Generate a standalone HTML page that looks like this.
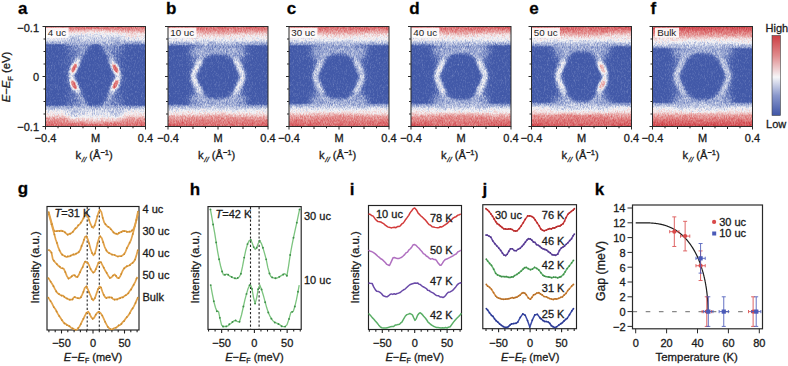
<!DOCTYPE html>
<html><head><meta charset="utf-8"><style>
html,body{margin:0;padding:0;background:#fff;}
svg{display:block;font-family:"Liberation Sans", sans-serif;}
text{stroke:#1a1a1a;stroke-width:0.3px;}
</style></head><body>
<svg width="788" height="366" viewBox="0 0 788 366">
<defs><clipPath id="clip0"><rect x="45.5" y="26.5" width="100.0" height="100.0"/></clipPath>
<linearGradient id="iT0" gradientUnits="userSpaceOnUse" x1="0" y1="0" x2="0" y2="19"><stop offset="0" stop-color="rgb(222,222,222)"/><stop offset="0.211" stop-color="rgb(184,184,184)"/><stop offset="0.395" stop-color="rgb(143,143,143)"/><stop offset="0.684" stop-color="rgb(120,120,120)"/><stop offset="0.895" stop-color="rgb(94,94,94)" stop-opacity="0.7"/><stop offset="1" stop-color="rgb(76,76,76)" stop-opacity="0"/></linearGradient>
<linearGradient id="iB0" gradientUnits="userSpaceOnUse" x1="0" y1="100" x2="0" y2="78"><stop offset="0" stop-color="rgb(222,222,222)"/><stop offset="0.364" stop-color="rgb(184,184,184)"/><stop offset="0.523" stop-color="rgb(143,143,143)"/><stop offset="0.727" stop-color="rgb(120,120,120)"/><stop offset="0.909" stop-color="rgb(94,94,94)" stop-opacity="0.7"/><stop offset="1" stop-color="rgb(76,76,76)" stop-opacity="0"/></linearGradient>
<clipPath id="clip1"><rect x="168.0" y="26.5" width="100.0" height="100.0"/></clipPath>
<linearGradient id="iT1" gradientUnits="userSpaceOnUse" x1="0" y1="0" x2="0" y2="20"><stop offset="0" stop-color="rgb(232,232,232)"/><stop offset="0.250" stop-color="rgb(184,184,184)"/><stop offset="0.425" stop-color="rgb(143,143,143)"/><stop offset="0.700" stop-color="rgb(120,120,120)"/><stop offset="0.900" stop-color="rgb(94,94,94)" stop-opacity="0.7"/><stop offset="1" stop-color="rgb(76,76,76)" stop-opacity="0"/></linearGradient>
<linearGradient id="iB1" gradientUnits="userSpaceOnUse" x1="0" y1="100" x2="0" y2="77"><stop offset="0" stop-color="rgb(232,232,232)"/><stop offset="0.391" stop-color="rgb(184,184,184)"/><stop offset="0.543" stop-color="rgb(143,143,143)"/><stop offset="0.739" stop-color="rgb(120,120,120)"/><stop offset="0.913" stop-color="rgb(94,94,94)" stop-opacity="0.7"/><stop offset="1" stop-color="rgb(76,76,76)" stop-opacity="0"/></linearGradient>
<clipPath id="clip2"><rect x="289.0" y="26.5" width="100.0" height="100.0"/></clipPath>
<linearGradient id="iT2" gradientUnits="userSpaceOnUse" x1="0" y1="0" x2="0" y2="20"><stop offset="0" stop-color="rgb(232,232,232)"/><stop offset="0.250" stop-color="rgb(184,184,184)"/><stop offset="0.425" stop-color="rgb(143,143,143)"/><stop offset="0.700" stop-color="rgb(120,120,120)"/><stop offset="0.900" stop-color="rgb(94,94,94)" stop-opacity="0.7"/><stop offset="1" stop-color="rgb(76,76,76)" stop-opacity="0"/></linearGradient>
<linearGradient id="iB2" gradientUnits="userSpaceOnUse" x1="0" y1="100" x2="0" y2="76"><stop offset="0" stop-color="rgb(232,232,232)"/><stop offset="0.417" stop-color="rgb(184,184,184)"/><stop offset="0.562" stop-color="rgb(143,143,143)"/><stop offset="0.750" stop-color="rgb(120,120,120)"/><stop offset="0.917" stop-color="rgb(94,94,94)" stop-opacity="0.7"/><stop offset="1" stop-color="rgb(76,76,76)" stop-opacity="0"/></linearGradient>
<clipPath id="clip3"><rect x="411.0" y="26.5" width="100.0" height="100.0"/></clipPath>
<linearGradient id="iT3" gradientUnits="userSpaceOnUse" x1="0" y1="0" x2="0" y2="20"><stop offset="0" stop-color="rgb(235,235,235)"/><stop offset="0.250" stop-color="rgb(184,184,184)"/><stop offset="0.425" stop-color="rgb(143,143,143)"/><stop offset="0.700" stop-color="rgb(120,120,120)"/><stop offset="0.900" stop-color="rgb(94,94,94)" stop-opacity="0.7"/><stop offset="1" stop-color="rgb(76,76,76)" stop-opacity="0"/></linearGradient>
<linearGradient id="iB3" gradientUnits="userSpaceOnUse" x1="0" y1="100" x2="0" y2="76"><stop offset="0" stop-color="rgb(235,235,235)"/><stop offset="0.417" stop-color="rgb(184,184,184)"/><stop offset="0.562" stop-color="rgb(143,143,143)"/><stop offset="0.750" stop-color="rgb(120,120,120)"/><stop offset="0.917" stop-color="rgb(94,94,94)" stop-opacity="0.7"/><stop offset="1" stop-color="rgb(76,76,76)" stop-opacity="0"/></linearGradient>
<clipPath id="clip4"><rect x="531.5" y="26.5" width="100.0" height="100.0"/></clipPath>
<linearGradient id="iT4" gradientUnits="userSpaceOnUse" x1="0" y1="0" x2="0" y2="21"><stop offset="0" stop-color="rgb(240,240,240)"/><stop offset="0.286" stop-color="rgb(184,184,184)"/><stop offset="0.452" stop-color="rgb(143,143,143)"/><stop offset="0.714" stop-color="rgb(120,120,120)"/><stop offset="0.905" stop-color="rgb(94,94,94)" stop-opacity="0.7"/><stop offset="1" stop-color="rgb(76,76,76)" stop-opacity="0"/></linearGradient>
<linearGradient id="iB4" gradientUnits="userSpaceOnUse" x1="0" y1="100" x2="0" y2="75"><stop offset="0" stop-color="rgb(240,240,240)"/><stop offset="0.440" stop-color="rgb(184,184,184)"/><stop offset="0.580" stop-color="rgb(143,143,143)"/><stop offset="0.760" stop-color="rgb(120,120,120)"/><stop offset="0.920" stop-color="rgb(94,94,94)" stop-opacity="0.7"/><stop offset="1" stop-color="rgb(76,76,76)" stop-opacity="0"/></linearGradient>
<clipPath id="clip5"><rect x="652.5" y="26.5" width="100.0" height="100.0"/></clipPath>
<linearGradient id="iT5" gradientUnits="userSpaceOnUse" x1="0" y1="0" x2="0" y2="23"><stop offset="0" stop-color="rgb(247,247,247)"/><stop offset="0.391" stop-color="rgb(184,184,184)"/><stop offset="0.543" stop-color="rgb(143,143,143)"/><stop offset="0.739" stop-color="rgb(120,120,120)"/><stop offset="0.913" stop-color="rgb(94,94,94)" stop-opacity="0.7"/><stop offset="1" stop-color="rgb(76,76,76)" stop-opacity="0"/></linearGradient>
<linearGradient id="iB5" gradientUnits="userSpaceOnUse" x1="0" y1="100" x2="0" y2="75"><stop offset="0" stop-color="rgb(247,247,247)"/><stop offset="0.440" stop-color="rgb(184,184,184)"/><stop offset="0.580" stop-color="rgb(143,143,143)"/><stop offset="0.760" stop-color="rgb(120,120,120)"/><stop offset="0.920" stop-color="rgb(94,94,94)" stop-opacity="0.7"/><stop offset="1" stop-color="rgb(76,76,76)" stop-opacity="0"/></linearGradient>
<linearGradient id="cbar" x1="0" y1="0" x2="0" y2="1"><stop offset="0" stop-color="#cc3d42"/><stop offset="0.25" stop-color="#e08a8c"/><stop offset="0.52" stop-color="#f6f6f8"/><stop offset="0.75" stop-color="#8a98cc"/><stop offset="1" stop-color="#3f55a6"/></linearGradient>
<filter id="blur05" x="-20%" y="-20%" width="140%" height="140%"><feGaussianBlur stdDeviation="0.6"/></filter>
<filter id="blur1" x="-20%" y="-20%" width="140%" height="140%"><feGaussianBlur stdDeviation="1.2"/></filter>
<filter id="blur3" x="-20%" y="-20%" width="140%" height="140%"><feGaussianBlur stdDeviation="3"/></filter>
<filter id="streak0" x="-10%" y="-10%" width="120%" height="120%"><feTurbulence type="fractalNoise" baseFrequency="0.9 0.06" numOctaves="2" seed="5" result="t"/><feDisplacementMap in="SourceGraphic" in2="t" scale="7" xChannelSelector="R" yChannelSelector="G"/><feGaussianBlur stdDeviation="1.6"/></filter>
<filter id="streak1" x="-10%" y="-10%" width="120%" height="120%"><feTurbulence type="fractalNoise" baseFrequency="0.9 0.06" numOctaves="2" seed="11" result="t"/><feDisplacementMap in="SourceGraphic" in2="t" scale="7" xChannelSelector="R" yChannelSelector="G"/><feGaussianBlur stdDeviation="1.6"/></filter>
<filter id="streak2" x="-10%" y="-10%" width="120%" height="120%"><feTurbulence type="fractalNoise" baseFrequency="0.9 0.06" numOctaves="2" seed="23" result="t"/><feDisplacementMap in="SourceGraphic" in2="t" scale="7" xChannelSelector="R" yChannelSelector="G"/><feGaussianBlur stdDeviation="1.6"/></filter>
<filter id="blur15" x="-20%" y="-20%" width="140%" height="140%"><feGaussianBlur stdDeviation="1.7"/></filter>
<filter id="cmap0" x="0" y="0" width="100%" height="100%" color-interpolation-filters="sRGB"><feTurbulence type="fractalNoise" baseFrequency="1.3 0.45" numOctaves="2" seed="3" result="nz"/><feColorMatrix in="nz" type="matrix" values="1 0 0 0 0  1 0 0 0 0  1 0 0 0 0  0 0 0 0 1" result="ng"/><feComposite in="SourceGraphic" in2="ng" operator="arithmetic" k1="0" k2="1" k3="0.34" k4="-0.17" result="sum"/><feComponentTransfer in="sum"><feFuncR type="table" tableValues="0.26 0.26 0.36 0.55 0.76 0.96 0.94 0.91 0.88 0.84 0.80"/><feFuncG type="table" tableValues="0.35 0.35 0.44 0.61 0.79 0.96 0.82 0.66 0.50 0.36 0.24"/><feFuncB type="table" tableValues="0.66 0.66 0.71 0.80 0.89 0.97 0.82 0.66 0.50 0.38 0.26"/><feFuncA type="linear" slope="0" intercept="1"/></feComponentTransfer><feGaussianBlur stdDeviation="0.7"/></filter>
<filter id="cmap1" x="0" y="0" width="100%" height="100%" color-interpolation-filters="sRGB"><feTurbulence type="fractalNoise" baseFrequency="1.3 0.45" numOctaves="2" seed="17" result="nz"/><feColorMatrix in="nz" type="matrix" values="1 0 0 0 0  1 0 0 0 0  1 0 0 0 0  0 0 0 0 1" result="ng"/><feComposite in="SourceGraphic" in2="ng" operator="arithmetic" k1="0" k2="1" k3="0.34" k4="-0.17" result="sum"/><feComponentTransfer in="sum"><feFuncR type="table" tableValues="0.26 0.26 0.36 0.55 0.76 0.96 0.94 0.91 0.88 0.84 0.80"/><feFuncG type="table" tableValues="0.35 0.35 0.44 0.61 0.79 0.96 0.82 0.66 0.50 0.36 0.24"/><feFuncB type="table" tableValues="0.66 0.66 0.71 0.80 0.89 0.97 0.82 0.66 0.50 0.38 0.26"/><feFuncA type="linear" slope="0" intercept="1"/></feComponentTransfer><feGaussianBlur stdDeviation="0.7"/></filter>
<filter id="cmap2" x="0" y="0" width="100%" height="100%" color-interpolation-filters="sRGB"><feTurbulence type="fractalNoise" baseFrequency="1.3 0.45" numOctaves="2" seed="29" result="nz"/><feColorMatrix in="nz" type="matrix" values="1 0 0 0 0  1 0 0 0 0  1 0 0 0 0  0 0 0 0 1" result="ng"/><feComposite in="SourceGraphic" in2="ng" operator="arithmetic" k1="0" k2="1" k3="0.34" k4="-0.17" result="sum"/><feComponentTransfer in="sum"><feFuncR type="table" tableValues="0.26 0.26 0.36 0.55 0.76 0.96 0.94 0.91 0.88 0.84 0.80"/><feFuncG type="table" tableValues="0.35 0.35 0.44 0.61 0.79 0.96 0.82 0.66 0.50 0.36 0.24"/><feFuncB type="table" tableValues="0.66 0.66 0.71 0.80 0.89 0.97 0.82 0.66 0.50 0.38 0.26"/><feFuncA type="linear" slope="0" intercept="1"/></feComponentTransfer><feGaussianBlur stdDeviation="0.7"/></filter>
<filter id="blur25" x="-20%" y="-20%" width="140%" height="140%"><feGaussianBlur stdDeviation="3.4"/></filter>
<filter id="blur2" x="-20%" y="-20%" width="140%" height="140%"><feGaussianBlur stdDeviation="2"/></filter>
<filter id="blur4" x="-20%" y="-20%" width="140%" height="140%"><feGaussianBlur stdDeviation="4"/></filter>
<filter id="speck" x="0" y="0" width="100%" height="100%"><feTurbulence type="fractalNoise" baseFrequency="0.9" numOctaves="1" seed="3"/><feColorMatrix type="matrix" values="0 0 0 0 1  0 0 0 0 1  0 0 0 0 1  0 0 0 -2.5 1.2"/></filter>
<linearGradient id="redTop" x1="0" y1="0" x2="0" y2="1"><stop offset="0" stop-color="#d24e50"/><stop offset="0.62" stop-color="#d8676a"/><stop offset="1" stop-color="#f2d6da" stop-opacity="0"/></linearGradient>
<linearGradient id="redBot" x1="0" y1="1" x2="0" y2="0"><stop offset="0" stop-color="#d24e50"/><stop offset="0.62" stop-color="#d8676a"/><stop offset="1" stop-color="#f2d6da" stop-opacity="0"/></linearGradient>
</defs>
<rect width="788" height="366" fill="#fff"/>
<g clip-path="url(#clip0)">
<g transform="translate(45.5,26.5)">
<g filter="url(#cmap0)">
<rect x="-5" y="-5" width="110" height="110" fill="rgb(54,54,54)"/>
<g filter="url(#blur25)">
<path d="M-10,18 C0,17 6,15 12,15 C18,15 23,20 23,38 L21,50 L23,62 C23,80 18,85 12,85 C6,85 0,83 -10,82 Z" fill="rgb(26,26,26)"/>
<path d="M110,18 C100,17 94,15 88,15 C81,15 76,20 76,38 L78,50 L76,62 C76,80 81,85 88,85 C94,85 100,83 110,82 Z" fill="rgb(26,26,26)"/>
<path d="M50,13 C56,13 73.0,44 73.0,50 C73.0,56 56,87 50,87 C44,87 25.5,56 25.5,50 C25.5,44 44,13 50,13 Z" fill="rgb(26,26,26)"/>
</g>
<rect x="-5" y="-5" width="110" height="24" fill="url(#iT0)"/>
<rect x="-5" y="78" width="110" height="27" fill="url(#iB0)"/>
<path d="M40,11 L28.5,42 L25.5,50 L28.5,58 L40,86 M60,11 L70.0,42 L73.0,50 L70.0,58 L60,86" fill="none" stroke="rgb(122,122,122)" stroke-width="4.5" stroke-linejoin="round" opacity="0.45" filter="url(#blur2)"/>
<ellipse cx="30" cy="14" rx="9" ry="7" fill="rgb(92,92,92)" opacity="0.8" filter="url(#blur3)"/>
<ellipse cx="70" cy="14" rx="9" ry="7" fill="rgb(92,92,92)" opacity="0.8" filter="url(#blur3)"/>
<ellipse cx="30" cy="86" rx="9" ry="7" fill="rgb(92,92,92)" opacity="0.8" filter="url(#blur3)"/>
<ellipse cx="70" cy="86" rx="9" ry="7" fill="rgb(92,92,92)" opacity="0.8" filter="url(#blur3)"/>
<ellipse cx="50" cy="10" rx="15" ry="5" fill="rgb(102,102,102)" opacity="0.7" filter="url(#blur3)"/>
<ellipse cx="50" cy="90" rx="15" ry="5" fill="rgb(102,102,102)" opacity="0.7" filter="url(#blur3)"/>
<path d="M50,13 C56,13 73.0,44 73.0,50 C73.0,56 56,87 50,87 C44,87 25.5,56 25.5,50 C25.5,44 44,13 50,13 Z" fill="none" stroke="rgb(102,102,102)" stroke-width="3.6" opacity="0.65" filter="url(#blur15)"/>
<path d="M32.5,35 L26.0,48.5 M26.0,51.5 L32.5,65 M66.0,35 L72.5,48.5 M72.5,51.5 L66.0,65" fill="none" stroke="rgb(122,122,122)" stroke-width="4.2" stroke-linecap="round" filter="url(#blur15)"/>
<ellipse cx="28.5" cy="41.5" rx="6.5" ry="3.2" fill="rgb(133,133,133)" transform="rotate(-62 28.5 41.5)" filter="url(#blur1)"/>
<ellipse cx="28.5" cy="41.5" rx="4.6" ry="2.0" fill="rgb(214,214,214)" transform="rotate(-62 28.5 41.5)" filter="url(#blur05)"/>
<ellipse cx="28.5" cy="58.5" rx="6.5" ry="3.2" fill="rgb(133,133,133)" transform="rotate(62 28.5 58.5)" filter="url(#blur1)"/>
<ellipse cx="28.5" cy="58.5" rx="4.6" ry="2.0" fill="rgb(214,214,214)" transform="rotate(62 28.5 58.5)" filter="url(#blur05)"/>
<ellipse cx="70.0" cy="42" rx="6.5" ry="3.2" fill="rgb(133,133,133)" transform="rotate(62 70.0 42)" filter="url(#blur1)"/>
<ellipse cx="70.0" cy="42" rx="4.6" ry="2.0" fill="rgb(214,214,214)" transform="rotate(62 70.0 42)" filter="url(#blur05)"/>
<ellipse cx="70.0" cy="58" rx="6.5" ry="3.2" fill="rgb(133,133,133)" transform="rotate(-62 70.0 58)" filter="url(#blur1)"/>
<ellipse cx="70.0" cy="58" rx="4.6" ry="2.0" fill="rgb(214,214,214)" transform="rotate(-62 70.0 58)" filter="url(#blur05)"/>
</g>
<rect x="0" y="1.2" width="23.1" height="10" fill="#ffffff" opacity="0.9"/>
<text x="2.2" y="9.8" font-size="9.8" fill="#222" style="stroke:none">4 uc</text>
</g></g>
<g clip-path="url(#clip1)">
<g transform="translate(168.0,26.5)">
<g filter="url(#cmap1)">
<rect x="-5" y="-5" width="110" height="110" fill="rgb(54,54,54)"/>
<g filter="url(#blur25)">
<path d="M-10,17 C0,16 6,14 12,14 C20,14 25,19 25,37 L23,50 L25,63 C25,81 20,86 12,86 C6,86 0,84 -10,83 Z" fill="rgb(26,26,26)"/>
<path d="M110,17 C100,16 94,14 88,14 C80,14 75,19 75,37 L77,50 L75,63 C75,81 80,86 88,86 C94,86 100,84 110,83 Z" fill="rgb(26,26,26)"/>
<path d="M50,25 C64,25 75.0,37 75.0,50 C75.0,63 64,75 50,75 C36,75 25.0,63 25.0,50 C25.0,37 36,25 50,25 Z" fill="rgb(26,26,26)"/>
</g>
<rect x="-5" y="-5" width="110" height="25" fill="url(#iT1)"/>
<rect x="-5" y="77" width="110" height="28" fill="url(#iB1)"/>
<ellipse cx="50" cy="-1" rx="34" ry="9" fill="rgb(204,204,204)" opacity="0.40" filter="url(#blur3)"/>
<ellipse cx="50" cy="101" rx="34" ry="13" fill="rgb(204,204,204)" opacity="0.40" filter="url(#blur3)"/>
<path d="M40,12 L28.0,42 L25.0,50 L28.0,58 L40,85 M60,12 L72.0,42 L75.0,50 L72.0,58 L60,85" fill="none" stroke="rgb(122,122,122)" stroke-width="4.5" stroke-linejoin="round" opacity="0.45" filter="url(#blur2)"/>
<ellipse cx="30" cy="26" rx="9" ry="7" fill="rgb(92,92,92)" opacity="0.8" filter="url(#blur3)"/>
<ellipse cx="70" cy="26" rx="9" ry="7" fill="rgb(92,92,92)" opacity="0.8" filter="url(#blur3)"/>
<ellipse cx="30" cy="74" rx="9" ry="7" fill="rgb(92,92,92)" opacity="0.8" filter="url(#blur3)"/>
<ellipse cx="70" cy="74" rx="9" ry="7" fill="rgb(92,92,92)" opacity="0.8" filter="url(#blur3)"/>
<ellipse cx="50" cy="22" rx="15" ry="5" fill="rgb(102,102,102)" opacity="0.7" filter="url(#blur3)"/>
<ellipse cx="50" cy="78" rx="15" ry="5" fill="rgb(102,102,102)" opacity="0.7" filter="url(#blur3)"/>
<path d="M50,25 C64,25 75.0,37 75.0,50 C75.0,63 64,75 50,75 C36,75 25.0,63 25.0,50 C25.0,37 36,25 50,25 Z" fill="none" stroke="rgb(102,102,102)" stroke-width="3.6" opacity="0.65" filter="url(#blur15)"/>
<path d="M32.0,35 L25.5,48.5 M25.5,51.5 L32.0,65 M68.0,35 L74.5,48.5 M74.5,51.5 L68.0,65" fill="none" stroke="rgb(128,128,128)" stroke-width="4.2" stroke-linecap="round" filter="url(#blur15)"/>
</g>
<rect x="0" y="1.2" width="28.4" height="10" fill="#ffffff" opacity="0.9"/>
<text x="2.2" y="9.8" font-size="9.8" fill="#222" style="stroke:none">10 uc</text>
</g></g>
<g clip-path="url(#clip2)">
<g transform="translate(289.0,26.5)">
<g filter="url(#cmap2)">
<rect x="-5" y="-5" width="110" height="110" fill="rgb(54,54,54)"/>
<g filter="url(#blur25)">
<path d="M-10,17 C0,16 6,14 12,14 C20,14 25,19 25,37 L23,50 L25,63 C25,81 20,86 12,86 C6,86 0,84 -10,83 Z" fill="rgb(26,26,26)"/>
<path d="M110,17 C100,16 94,14 88,14 C80,14 75,19 75,37 L77,50 L75,63 C75,81 80,86 88,86 C94,86 100,84 110,83 Z" fill="rgb(26,26,26)"/>
<path d="M50,25 C64,25 73.5,37 73.5,50 C73.5,63 64,75 50,75 C36,75 26.0,63 26.0,50 C26.0,37 36,25 50,25 Z" fill="rgb(26,26,26)"/>
</g>
<rect x="-5" y="-5" width="110" height="25" fill="url(#iT2)"/>
<rect x="-5" y="76" width="110" height="29" fill="url(#iB2)"/>
<ellipse cx="50" cy="-1" rx="34" ry="9" fill="rgb(204,204,204)" opacity="0.40" filter="url(#blur3)"/>
<ellipse cx="50" cy="101" rx="34" ry="14" fill="rgb(204,204,204)" opacity="0.40" filter="url(#blur3)"/>
<path d="M40,12 L29.0,42 L26.0,50 L29.0,58 L40,84 M59,12 L70.5,42 L73.5,50 L70.5,58 L59,84" fill="none" stroke="rgb(107,107,107)" stroke-width="4.5" stroke-linejoin="round" opacity="0.45" filter="url(#blur2)"/>
<ellipse cx="30" cy="26" rx="9" ry="7" fill="rgb(92,92,92)" opacity="0.8" filter="url(#blur3)"/>
<ellipse cx="70" cy="26" rx="9" ry="7" fill="rgb(92,92,92)" opacity="0.8" filter="url(#blur3)"/>
<ellipse cx="30" cy="74" rx="9" ry="7" fill="rgb(92,92,92)" opacity="0.8" filter="url(#blur3)"/>
<ellipse cx="70" cy="74" rx="9" ry="7" fill="rgb(92,92,92)" opacity="0.8" filter="url(#blur3)"/>
<ellipse cx="50" cy="22" rx="15" ry="5" fill="rgb(102,102,102)" opacity="0.7" filter="url(#blur3)"/>
<ellipse cx="50" cy="78" rx="15" ry="5" fill="rgb(102,102,102)" opacity="0.7" filter="url(#blur3)"/>
<path d="M50,25 C64,25 73.5,37 73.5,50 C73.5,63 64,75 50,75 C36,75 26.0,63 26.0,50 C26.0,37 36,25 50,25 Z" fill="none" stroke="rgb(102,102,102)" stroke-width="3.6" opacity="0.65" filter="url(#blur15)"/>
<path d="M33.0,35 L26.5,48.5 M26.5,51.5 L33.0,65 M66.5,35 L73.0,48.5 M73.0,51.5 L66.5,65" fill="none" stroke="rgb(110,110,110)" stroke-width="4.2" stroke-linecap="round" filter="url(#blur15)"/>
</g>
<rect x="0" y="1.2" width="28.4" height="10" fill="#ffffff" opacity="0.9"/>
<text x="2.2" y="9.8" font-size="9.8" fill="#222" style="stroke:none">30 uc</text>
</g></g>
<g clip-path="url(#clip3)">
<g transform="translate(411.0,26.5)">
<g filter="url(#cmap0)">
<rect x="-5" y="-5" width="110" height="110" fill="rgb(54,54,54)"/>
<g filter="url(#blur25)">
<path d="M-10,17 C0,16 6,14 12,14 C20,14 25,19 25,37 L23,50 L25,63 C25,81 20,86 12,86 C6,86 0,84 -10,83 Z" fill="rgb(26,26,26)"/>
<path d="M110,17 C100,16 94,14 88,14 C80,14 75,19 75,37 L77,50 L75,63 C75,81 80,86 88,86 C94,86 100,84 110,83 Z" fill="rgb(26,26,26)"/>
<path d="M50,24 C64,24 74.5,37 74.5,50 C74.5,63 64,76 50,76 C36,76 25.5,63 25.5,50 C25.5,37 36,24 50,24 Z" fill="rgb(26,26,26)"/>
</g>
<rect x="-5" y="-5" width="110" height="25" fill="url(#iT3)"/>
<rect x="-5" y="76" width="110" height="29" fill="url(#iB3)"/>
<ellipse cx="50" cy="-1" rx="34" ry="9" fill="rgb(206,206,206)" opacity="0.48" filter="url(#blur3)"/>
<ellipse cx="50" cy="101" rx="34" ry="14" fill="rgb(206,206,206)" opacity="0.48" filter="url(#blur3)"/>
<path d="M39,12 L28.5,42 L25.5,50 L28.5,58 L39,84 M61,12 L71.5,42 L74.5,50 L71.5,58 L61,84" fill="none" stroke="rgb(122,122,122)" stroke-width="4.5" stroke-linejoin="round" opacity="0.45" filter="url(#blur2)"/>
<ellipse cx="30" cy="25" rx="9" ry="7" fill="rgb(92,92,92)" opacity="0.8" filter="url(#blur3)"/>
<ellipse cx="70" cy="25" rx="9" ry="7" fill="rgb(92,92,92)" opacity="0.8" filter="url(#blur3)"/>
<ellipse cx="30" cy="75" rx="9" ry="7" fill="rgb(92,92,92)" opacity="0.8" filter="url(#blur3)"/>
<ellipse cx="70" cy="75" rx="9" ry="7" fill="rgb(92,92,92)" opacity="0.8" filter="url(#blur3)"/>
<ellipse cx="50" cy="21" rx="15" ry="5" fill="rgb(102,102,102)" opacity="0.7" filter="url(#blur3)"/>
<ellipse cx="50" cy="79" rx="15" ry="5" fill="rgb(102,102,102)" opacity="0.7" filter="url(#blur3)"/>
<path d="M50,24 C64,24 74.5,37 74.5,50 C74.5,63 64,76 50,76 C36,76 25.5,63 25.5,50 C25.5,37 36,24 50,24 Z" fill="none" stroke="rgb(102,102,102)" stroke-width="3.6" opacity="0.65" filter="url(#blur15)"/>
<path d="M32.5,35 L26.0,48.5 M26.0,51.5 L32.5,65 M67.5,35 L74.0,48.5 M74.0,51.5 L67.5,65" fill="none" stroke="rgb(128,128,128)" stroke-width="4.2" stroke-linecap="round" filter="url(#blur15)"/>
</g>
<rect x="0" y="1.2" width="28.4" height="10" fill="#ffffff" opacity="0.9"/>
<text x="2.2" y="9.8" font-size="9.8" fill="#222" style="stroke:none">40 uc</text>
</g></g>
<g clip-path="url(#clip4)">
<g transform="translate(531.5,26.5)">
<g filter="url(#cmap1)">
<rect x="-5" y="-5" width="110" height="110" fill="rgb(54,54,54)"/>
<g filter="url(#blur25)">
<path d="M-10,17 C0,16 6,14 12,14 C20,14 25,19 25,37 L23,50 L25,63 C25,81 20,86 12,86 C6,86 0,84 -10,83 Z" fill="rgb(26,26,26)"/>
<path d="M110,17 C100,16 94,14 88,14 C80,14 75,19 75,37 L77,50 L75,63 C75,81 80,86 88,86 C94,86 100,84 110,83 Z" fill="rgb(26,26,26)"/>
<path d="M50,22 C64,22 74.0,37 74.0,50 C74.0,63 64,78 50,78 C36,78 26.0,63 26.0,50 C26.0,37 36,22 50,22 Z" fill="rgb(26,26,26)"/>
</g>
<rect x="-5" y="-5" width="110" height="26" fill="url(#iT4)"/>
<rect x="-5" y="75" width="110" height="30" fill="url(#iB4)"/>
<ellipse cx="50" cy="-1" rx="34" ry="10" fill="rgb(211,211,211)" opacity="0.56" filter="url(#blur3)"/>
<ellipse cx="50" cy="101" rx="34" ry="15" fill="rgb(211,211,211)" opacity="0.56" filter="url(#blur3)"/>
<path d="M38,13 L29.0,42 L26.0,50 L29.0,58 L38,83 M62,13 L71.0,42 L74.0,50 L71.0,58 L62,83" fill="none" stroke="rgb(122,122,122)" stroke-width="4.5" stroke-linejoin="round" opacity="0.45" filter="url(#blur2)"/>
<ellipse cx="30" cy="23" rx="9" ry="7" fill="rgb(92,92,92)" opacity="0.8" filter="url(#blur3)"/>
<ellipse cx="70" cy="23" rx="9" ry="7" fill="rgb(92,92,92)" opacity="0.8" filter="url(#blur3)"/>
<ellipse cx="30" cy="77" rx="9" ry="7" fill="rgb(92,92,92)" opacity="0.8" filter="url(#blur3)"/>
<ellipse cx="70" cy="77" rx="9" ry="7" fill="rgb(92,92,92)" opacity="0.8" filter="url(#blur3)"/>
<ellipse cx="50" cy="19" rx="15" ry="5" fill="rgb(102,102,102)" opacity="0.7" filter="url(#blur3)"/>
<ellipse cx="50" cy="81" rx="15" ry="5" fill="rgb(102,102,102)" opacity="0.7" filter="url(#blur3)"/>
<path d="M50,22 C64,22 74.0,37 74.0,50 C74.0,63 64,78 50,78 C36,78 26.0,63 26.0,50 C26.0,37 36,22 50,22 Z" fill="none" stroke="rgb(102,102,102)" stroke-width="3.6" opacity="0.65" filter="url(#blur15)"/>
<path d="M33.0,35 L26.5,48.5 M26.5,51.5 L33.0,65 M67.0,35 L73.5,48.5 M73.5,51.5 L67.0,65" fill="none" stroke="rgb(128,128,128)" stroke-width="4.2" stroke-linecap="round" filter="url(#blur15)"/>
<ellipse cx="71.0" cy="42" rx="6.5" ry="3.2" fill="rgb(133,133,133)" transform="rotate(62 71.0 42)" filter="url(#blur1)"/>
<ellipse cx="71.0" cy="42" rx="4.6" ry="2.0" fill="rgb(168,168,168)" transform="rotate(62 71.0 42)" filter="url(#blur05)"/>
<ellipse cx="71.0" cy="58" rx="6.5" ry="3.2" fill="rgb(133,133,133)" transform="rotate(-62 71.0 58)" filter="url(#blur1)"/>
<ellipse cx="71.0" cy="58" rx="4.6" ry="2.0" fill="rgb(168,168,168)" transform="rotate(-62 71.0 58)" filter="url(#blur05)"/>
</g>
<rect x="0" y="1.2" width="28.4" height="10" fill="#ffffff" opacity="0.9"/>
<text x="2.2" y="9.8" font-size="9.8" fill="#222" style="stroke:none">50 uc</text>
</g></g>
<g clip-path="url(#clip5)">
<g transform="translate(652.5,26.5)">
<g filter="url(#cmap2)">
<rect x="-5" y="-5" width="110" height="110" fill="rgb(54,54,54)"/>
<g filter="url(#blur25)">
<path d="M-10,20 C0,19 6,17 12,17 C16,17 21,22 21,40 L19,50 L21,60 C21,78 16,83 12,83 C6,83 0,81 -10,80 Z" fill="rgb(26,26,26)"/>
<path d="M110,20 C100,19 94,17 88,17 C84,17 79,22 79,40 L81,50 L79,60 C79,78 84,83 88,83 C94,83 100,81 110,80 Z" fill="rgb(26,26,26)"/>
<path d="M50,24 C64,24 76.5,37 76.5,50 C76.5,63 64,76 50,76 C36,76 23.5,63 23.5,50 C23.5,37 36,24 50,24 Z" fill="rgb(26,26,26)"/>
</g>
<rect x="-5" y="-5" width="110" height="28" fill="url(#iT5)"/>
<rect x="-5" y="75" width="110" height="30" fill="url(#iB5)"/>
<path d="M39,15 L26.5,42 L23.5,50 L26.5,58 L39,83 M62,15 L73.5,42 L76.5,50 L73.5,58 L62,83" fill="none" stroke="rgb(117,117,117)" stroke-width="4.5" stroke-linejoin="round" opacity="0.45" filter="url(#blur2)"/>
<ellipse cx="30" cy="25" rx="9" ry="7" fill="rgb(92,92,92)" opacity="0.8" filter="url(#blur3)"/>
<ellipse cx="70" cy="25" rx="9" ry="7" fill="rgb(92,92,92)" opacity="0.8" filter="url(#blur3)"/>
<ellipse cx="30" cy="75" rx="9" ry="7" fill="rgb(92,92,92)" opacity="0.8" filter="url(#blur3)"/>
<ellipse cx="70" cy="75" rx="9" ry="7" fill="rgb(92,92,92)" opacity="0.8" filter="url(#blur3)"/>
<ellipse cx="50" cy="21" rx="15" ry="5" fill="rgb(102,102,102)" opacity="0.7" filter="url(#blur3)"/>
<ellipse cx="50" cy="79" rx="15" ry="5" fill="rgb(102,102,102)" opacity="0.7" filter="url(#blur3)"/>
<path d="M50,24 C64,24 76.5,37 76.5,50 C76.5,63 64,76 50,76 C36,76 23.5,63 23.5,50 C23.5,37 36,24 50,24 Z" fill="none" stroke="rgb(102,102,102)" stroke-width="3.6" opacity="0.65" filter="url(#blur15)"/>
<path d="M30.5,35 L24.0,48.5 M24.0,51.5 L30.5,65 M69.5,35 L76.0,48.5 M76.0,51.5 L69.5,65" fill="none" stroke="rgb(107,107,107)" stroke-width="4.2" stroke-linecap="round" filter="url(#blur15)"/>
</g>
<rect x="2.5" y="1.2" width="24.0" height="10" fill="#ffffff" opacity="0.9"/>
<text x="4.7" y="9.8" font-size="9.8" fill="#222" style="stroke:none">Bulk</text>
</g></g>
<rect x="45.5" y="26.5" width="100.0" height="100.0" fill="none" stroke="#2a2a2a" stroke-width="1"/>
<line x1="45.5" y1="126.5" x2="45.5" y2="129.5" stroke="#2a2a2a" stroke-width="1"/>
<line x1="58.0" y1="126.5" x2="58.0" y2="128.3" stroke="#2a2a2a" stroke-width="1"/>
<line x1="70.5" y1="126.5" x2="70.5" y2="129.0" stroke="#2a2a2a" stroke-width="1"/>
<line x1="83.0" y1="126.5" x2="83.0" y2="128.3" stroke="#2a2a2a" stroke-width="1"/>
<line x1="95.5" y1="126.5" x2="95.5" y2="129.5" stroke="#2a2a2a" stroke-width="1"/>
<line x1="108.0" y1="126.5" x2="108.0" y2="128.3" stroke="#2a2a2a" stroke-width="1"/>
<line x1="120.5" y1="126.5" x2="120.5" y2="129.0" stroke="#2a2a2a" stroke-width="1"/>
<line x1="133.0" y1="126.5" x2="133.0" y2="128.3" stroke="#2a2a2a" stroke-width="1"/>
<line x1="145.5" y1="126.5" x2="145.5" y2="129.5" stroke="#2a2a2a" stroke-width="1"/>
<line x1="45.5" y1="26.5" x2="42.5" y2="26.5" stroke="#2a2a2a" stroke-width="1"/>
<line x1="45.5" y1="39.0" x2="43.5" y2="39.0" stroke="#2a2a2a" stroke-width="1"/>
<line x1="45.5" y1="51.5" x2="43.5" y2="51.5" stroke="#2a2a2a" stroke-width="1"/>
<line x1="45.5" y1="64.0" x2="43.5" y2="64.0" stroke="#2a2a2a" stroke-width="1"/>
<line x1="45.5" y1="76.5" x2="42.5" y2="76.5" stroke="#2a2a2a" stroke-width="1"/>
<line x1="45.5" y1="89.0" x2="43.5" y2="89.0" stroke="#2a2a2a" stroke-width="1"/>
<line x1="45.5" y1="101.5" x2="43.5" y2="101.5" stroke="#2a2a2a" stroke-width="1"/>
<line x1="45.5" y1="114.0" x2="43.5" y2="114.0" stroke="#2a2a2a" stroke-width="1"/>
<line x1="45.5" y1="126.5" x2="42.5" y2="126.5" stroke="#2a2a2a" stroke-width="1"/>
<text x="45.50" y="142.04" font-size="11" text-anchor="middle" font-weight="normal" fill="#1a1a1a" >−0.4</text>
<text x="95.50" y="142.04" font-size="11" text-anchor="middle" font-weight="normal" fill="#1a1a1a" >M</text>
<text x="145.50" y="142.04" font-size="11" text-anchor="middle" font-weight="normal" fill="#1a1a1a" >0.4</text>
<text x="94.1" y="159.3" font-size="11.2" text-anchor="middle" fill="#1a1a1a">k<tspan font-size="8" font-style="italic" dy="2.5" dx="0.6">//</tspan><tspan dy="-2.5"> (Å</tspan><tspan font-size="7.5" dy="-4.2">−1</tspan><tspan dy="4.2">)</tspan></text>
<rect x="168.0" y="26.5" width="100.0" height="100.0" fill="none" stroke="#2a2a2a" stroke-width="1"/>
<line x1="168.0" y1="126.5" x2="168.0" y2="129.5" stroke="#2a2a2a" stroke-width="1"/>
<line x1="180.5" y1="126.5" x2="180.5" y2="128.3" stroke="#2a2a2a" stroke-width="1"/>
<line x1="193.0" y1="126.5" x2="193.0" y2="129.0" stroke="#2a2a2a" stroke-width="1"/>
<line x1="205.5" y1="126.5" x2="205.5" y2="128.3" stroke="#2a2a2a" stroke-width="1"/>
<line x1="218.0" y1="126.5" x2="218.0" y2="129.5" stroke="#2a2a2a" stroke-width="1"/>
<line x1="230.5" y1="126.5" x2="230.5" y2="128.3" stroke="#2a2a2a" stroke-width="1"/>
<line x1="243.0" y1="126.5" x2="243.0" y2="129.0" stroke="#2a2a2a" stroke-width="1"/>
<line x1="255.5" y1="126.5" x2="255.5" y2="128.3" stroke="#2a2a2a" stroke-width="1"/>
<line x1="268.0" y1="126.5" x2="268.0" y2="129.5" stroke="#2a2a2a" stroke-width="1"/>
<line x1="168.0" y1="26.5" x2="165.0" y2="26.5" stroke="#2a2a2a" stroke-width="1"/>
<line x1="168.0" y1="39.0" x2="166.0" y2="39.0" stroke="#2a2a2a" stroke-width="1"/>
<line x1="168.0" y1="51.5" x2="166.0" y2="51.5" stroke="#2a2a2a" stroke-width="1"/>
<line x1="168.0" y1="64.0" x2="166.0" y2="64.0" stroke="#2a2a2a" stroke-width="1"/>
<line x1="168.0" y1="76.5" x2="165.0" y2="76.5" stroke="#2a2a2a" stroke-width="1"/>
<line x1="168.0" y1="89.0" x2="166.0" y2="89.0" stroke="#2a2a2a" stroke-width="1"/>
<line x1="168.0" y1="101.5" x2="166.0" y2="101.5" stroke="#2a2a2a" stroke-width="1"/>
<line x1="168.0" y1="114.0" x2="166.0" y2="114.0" stroke="#2a2a2a" stroke-width="1"/>
<line x1="168.0" y1="126.5" x2="165.0" y2="126.5" stroke="#2a2a2a" stroke-width="1"/>
<text x="168.00" y="142.04" font-size="11" text-anchor="middle" font-weight="normal" fill="#1a1a1a" >−0.4</text>
<text x="218.00" y="142.04" font-size="11" text-anchor="middle" font-weight="normal" fill="#1a1a1a" >M</text>
<text x="268.00" y="142.04" font-size="11" text-anchor="middle" font-weight="normal" fill="#1a1a1a" >0.4</text>
<text x="216.6" y="159.3" font-size="11.2" text-anchor="middle" fill="#1a1a1a">k<tspan font-size="8" font-style="italic" dy="2.5" dx="0.6">//</tspan><tspan dy="-2.5"> (Å</tspan><tspan font-size="7.5" dy="-4.2">−1</tspan><tspan dy="4.2">)</tspan></text>
<rect x="289.0" y="26.5" width="100.0" height="100.0" fill="none" stroke="#2a2a2a" stroke-width="1"/>
<line x1="289.0" y1="126.5" x2="289.0" y2="129.5" stroke="#2a2a2a" stroke-width="1"/>
<line x1="301.5" y1="126.5" x2="301.5" y2="128.3" stroke="#2a2a2a" stroke-width="1"/>
<line x1="314.0" y1="126.5" x2="314.0" y2="129.0" stroke="#2a2a2a" stroke-width="1"/>
<line x1="326.5" y1="126.5" x2="326.5" y2="128.3" stroke="#2a2a2a" stroke-width="1"/>
<line x1="339.0" y1="126.5" x2="339.0" y2="129.5" stroke="#2a2a2a" stroke-width="1"/>
<line x1="351.5" y1="126.5" x2="351.5" y2="128.3" stroke="#2a2a2a" stroke-width="1"/>
<line x1="364.0" y1="126.5" x2="364.0" y2="129.0" stroke="#2a2a2a" stroke-width="1"/>
<line x1="376.5" y1="126.5" x2="376.5" y2="128.3" stroke="#2a2a2a" stroke-width="1"/>
<line x1="389.0" y1="126.5" x2="389.0" y2="129.5" stroke="#2a2a2a" stroke-width="1"/>
<line x1="289.0" y1="26.5" x2="286.0" y2="26.5" stroke="#2a2a2a" stroke-width="1"/>
<line x1="289.0" y1="39.0" x2="287.0" y2="39.0" stroke="#2a2a2a" stroke-width="1"/>
<line x1="289.0" y1="51.5" x2="287.0" y2="51.5" stroke="#2a2a2a" stroke-width="1"/>
<line x1="289.0" y1="64.0" x2="287.0" y2="64.0" stroke="#2a2a2a" stroke-width="1"/>
<line x1="289.0" y1="76.5" x2="286.0" y2="76.5" stroke="#2a2a2a" stroke-width="1"/>
<line x1="289.0" y1="89.0" x2="287.0" y2="89.0" stroke="#2a2a2a" stroke-width="1"/>
<line x1="289.0" y1="101.5" x2="287.0" y2="101.5" stroke="#2a2a2a" stroke-width="1"/>
<line x1="289.0" y1="114.0" x2="287.0" y2="114.0" stroke="#2a2a2a" stroke-width="1"/>
<line x1="289.0" y1="126.5" x2="286.0" y2="126.5" stroke="#2a2a2a" stroke-width="1"/>
<text x="289.00" y="142.04" font-size="11" text-anchor="middle" font-weight="normal" fill="#1a1a1a" >−0.4</text>
<text x="339.00" y="142.04" font-size="11" text-anchor="middle" font-weight="normal" fill="#1a1a1a" >M</text>
<text x="389.00" y="142.04" font-size="11" text-anchor="middle" font-weight="normal" fill="#1a1a1a" >0.4</text>
<text x="337.6" y="159.3" font-size="11.2" text-anchor="middle" fill="#1a1a1a">k<tspan font-size="8" font-style="italic" dy="2.5" dx="0.6">//</tspan><tspan dy="-2.5"> (Å</tspan><tspan font-size="7.5" dy="-4.2">−1</tspan><tspan dy="4.2">)</tspan></text>
<rect x="411.0" y="26.5" width="100.0" height="100.0" fill="none" stroke="#2a2a2a" stroke-width="1"/>
<line x1="411.0" y1="126.5" x2="411.0" y2="129.5" stroke="#2a2a2a" stroke-width="1"/>
<line x1="423.5" y1="126.5" x2="423.5" y2="128.3" stroke="#2a2a2a" stroke-width="1"/>
<line x1="436.0" y1="126.5" x2="436.0" y2="129.0" stroke="#2a2a2a" stroke-width="1"/>
<line x1="448.5" y1="126.5" x2="448.5" y2="128.3" stroke="#2a2a2a" stroke-width="1"/>
<line x1="461.0" y1="126.5" x2="461.0" y2="129.5" stroke="#2a2a2a" stroke-width="1"/>
<line x1="473.5" y1="126.5" x2="473.5" y2="128.3" stroke="#2a2a2a" stroke-width="1"/>
<line x1="486.0" y1="126.5" x2="486.0" y2="129.0" stroke="#2a2a2a" stroke-width="1"/>
<line x1="498.5" y1="126.5" x2="498.5" y2="128.3" stroke="#2a2a2a" stroke-width="1"/>
<line x1="511.0" y1="126.5" x2="511.0" y2="129.5" stroke="#2a2a2a" stroke-width="1"/>
<line x1="411.0" y1="26.5" x2="408.0" y2="26.5" stroke="#2a2a2a" stroke-width="1"/>
<line x1="411.0" y1="39.0" x2="409.0" y2="39.0" stroke="#2a2a2a" stroke-width="1"/>
<line x1="411.0" y1="51.5" x2="409.0" y2="51.5" stroke="#2a2a2a" stroke-width="1"/>
<line x1="411.0" y1="64.0" x2="409.0" y2="64.0" stroke="#2a2a2a" stroke-width="1"/>
<line x1="411.0" y1="76.5" x2="408.0" y2="76.5" stroke="#2a2a2a" stroke-width="1"/>
<line x1="411.0" y1="89.0" x2="409.0" y2="89.0" stroke="#2a2a2a" stroke-width="1"/>
<line x1="411.0" y1="101.5" x2="409.0" y2="101.5" stroke="#2a2a2a" stroke-width="1"/>
<line x1="411.0" y1="114.0" x2="409.0" y2="114.0" stroke="#2a2a2a" stroke-width="1"/>
<line x1="411.0" y1="126.5" x2="408.0" y2="126.5" stroke="#2a2a2a" stroke-width="1"/>
<text x="411.00" y="142.04" font-size="11" text-anchor="middle" font-weight="normal" fill="#1a1a1a" >−0.4</text>
<text x="461.00" y="142.04" font-size="11" text-anchor="middle" font-weight="normal" fill="#1a1a1a" >M</text>
<text x="511.00" y="142.04" font-size="11" text-anchor="middle" font-weight="normal" fill="#1a1a1a" >0.4</text>
<text x="459.6" y="159.3" font-size="11.2" text-anchor="middle" fill="#1a1a1a">k<tspan font-size="8" font-style="italic" dy="2.5" dx="0.6">//</tspan><tspan dy="-2.5"> (Å</tspan><tspan font-size="7.5" dy="-4.2">−1</tspan><tspan dy="4.2">)</tspan></text>
<rect x="531.5" y="26.5" width="100.0" height="100.0" fill="none" stroke="#2a2a2a" stroke-width="1"/>
<line x1="531.5" y1="126.5" x2="531.5" y2="129.5" stroke="#2a2a2a" stroke-width="1"/>
<line x1="544.0" y1="126.5" x2="544.0" y2="128.3" stroke="#2a2a2a" stroke-width="1"/>
<line x1="556.5" y1="126.5" x2="556.5" y2="129.0" stroke="#2a2a2a" stroke-width="1"/>
<line x1="569.0" y1="126.5" x2="569.0" y2="128.3" stroke="#2a2a2a" stroke-width="1"/>
<line x1="581.5" y1="126.5" x2="581.5" y2="129.5" stroke="#2a2a2a" stroke-width="1"/>
<line x1="594.0" y1="126.5" x2="594.0" y2="128.3" stroke="#2a2a2a" stroke-width="1"/>
<line x1="606.5" y1="126.5" x2="606.5" y2="129.0" stroke="#2a2a2a" stroke-width="1"/>
<line x1="619.0" y1="126.5" x2="619.0" y2="128.3" stroke="#2a2a2a" stroke-width="1"/>
<line x1="631.5" y1="126.5" x2="631.5" y2="129.5" stroke="#2a2a2a" stroke-width="1"/>
<line x1="531.5" y1="26.5" x2="528.5" y2="26.5" stroke="#2a2a2a" stroke-width="1"/>
<line x1="531.5" y1="39.0" x2="529.5" y2="39.0" stroke="#2a2a2a" stroke-width="1"/>
<line x1="531.5" y1="51.5" x2="529.5" y2="51.5" stroke="#2a2a2a" stroke-width="1"/>
<line x1="531.5" y1="64.0" x2="529.5" y2="64.0" stroke="#2a2a2a" stroke-width="1"/>
<line x1="531.5" y1="76.5" x2="528.5" y2="76.5" stroke="#2a2a2a" stroke-width="1"/>
<line x1="531.5" y1="89.0" x2="529.5" y2="89.0" stroke="#2a2a2a" stroke-width="1"/>
<line x1="531.5" y1="101.5" x2="529.5" y2="101.5" stroke="#2a2a2a" stroke-width="1"/>
<line x1="531.5" y1="114.0" x2="529.5" y2="114.0" stroke="#2a2a2a" stroke-width="1"/>
<line x1="531.5" y1="126.5" x2="528.5" y2="126.5" stroke="#2a2a2a" stroke-width="1"/>
<text x="531.50" y="142.04" font-size="11" text-anchor="middle" font-weight="normal" fill="#1a1a1a" >−0.4</text>
<text x="581.50" y="142.04" font-size="11" text-anchor="middle" font-weight="normal" fill="#1a1a1a" >M</text>
<text x="631.50" y="142.04" font-size="11" text-anchor="middle" font-weight="normal" fill="#1a1a1a" >0.4</text>
<text x="580.1" y="159.3" font-size="11.2" text-anchor="middle" fill="#1a1a1a">k<tspan font-size="8" font-style="italic" dy="2.5" dx="0.6">//</tspan><tspan dy="-2.5"> (Å</tspan><tspan font-size="7.5" dy="-4.2">−1</tspan><tspan dy="4.2">)</tspan></text>
<rect x="652.5" y="26.5" width="100.0" height="100.0" fill="none" stroke="#2a2a2a" stroke-width="1"/>
<line x1="652.5" y1="126.5" x2="652.5" y2="129.5" stroke="#2a2a2a" stroke-width="1"/>
<line x1="665.0" y1="126.5" x2="665.0" y2="128.3" stroke="#2a2a2a" stroke-width="1"/>
<line x1="677.5" y1="126.5" x2="677.5" y2="129.0" stroke="#2a2a2a" stroke-width="1"/>
<line x1="690.0" y1="126.5" x2="690.0" y2="128.3" stroke="#2a2a2a" stroke-width="1"/>
<line x1="702.5" y1="126.5" x2="702.5" y2="129.5" stroke="#2a2a2a" stroke-width="1"/>
<line x1="715.0" y1="126.5" x2="715.0" y2="128.3" stroke="#2a2a2a" stroke-width="1"/>
<line x1="727.5" y1="126.5" x2="727.5" y2="129.0" stroke="#2a2a2a" stroke-width="1"/>
<line x1="740.0" y1="126.5" x2="740.0" y2="128.3" stroke="#2a2a2a" stroke-width="1"/>
<line x1="752.5" y1="126.5" x2="752.5" y2="129.5" stroke="#2a2a2a" stroke-width="1"/>
<line x1="652.5" y1="26.5" x2="649.5" y2="26.5" stroke="#2a2a2a" stroke-width="1"/>
<line x1="652.5" y1="39.0" x2="650.5" y2="39.0" stroke="#2a2a2a" stroke-width="1"/>
<line x1="652.5" y1="51.5" x2="650.5" y2="51.5" stroke="#2a2a2a" stroke-width="1"/>
<line x1="652.5" y1="64.0" x2="650.5" y2="64.0" stroke="#2a2a2a" stroke-width="1"/>
<line x1="652.5" y1="76.5" x2="649.5" y2="76.5" stroke="#2a2a2a" stroke-width="1"/>
<line x1="652.5" y1="89.0" x2="650.5" y2="89.0" stroke="#2a2a2a" stroke-width="1"/>
<line x1="652.5" y1="101.5" x2="650.5" y2="101.5" stroke="#2a2a2a" stroke-width="1"/>
<line x1="652.5" y1="114.0" x2="650.5" y2="114.0" stroke="#2a2a2a" stroke-width="1"/>
<line x1="652.5" y1="126.5" x2="649.5" y2="126.5" stroke="#2a2a2a" stroke-width="1"/>
<text x="652.50" y="142.04" font-size="11" text-anchor="middle" font-weight="normal" fill="#1a1a1a" >−0.4</text>
<text x="702.50" y="142.04" font-size="11" text-anchor="middle" font-weight="normal" fill="#1a1a1a" >M</text>
<text x="752.50" y="142.04" font-size="11" text-anchor="middle" font-weight="normal" fill="#1a1a1a" >0.4</text>
<text x="701.1" y="159.3" font-size="11.2" text-anchor="middle" fill="#1a1a1a">k<tspan font-size="8" font-style="italic" dy="2.5" dx="0.6">//</tspan><tspan dy="-2.5"> (Å</tspan><tspan font-size="7.5" dy="-4.2">−1</tspan><tspan dy="4.2">)</tspan></text>
<text x="39.00" y="32.04" font-size="11" text-anchor="end" font-weight="normal" fill="#1a1a1a" >−0.1</text>
<text x="39.00" y="81.34" font-size="11" text-anchor="end" font-weight="normal" fill="#1a1a1a" >0</text>
<text x="39.00" y="130.64" font-size="11" text-anchor="end" font-weight="normal" fill="#1a1a1a" >−0.1</text>
<text transform="translate(10.4,77) rotate(-90)" font-size="11.2" text-anchor="middle" fill="#1a1a1a"><tspan font-style="italic">E</tspan>−<tspan font-style="italic">E</tspan><tspan font-size="7.5" dy="2.8">F</tspan><tspan dy="-2.8"> (eV)</tspan></text>
<rect x="772" y="35.5" width="8.5" height="80" fill="url(#cbar)" stroke="#444" stroke-width="0.6"/>
<text x="765.50" y="32.14" font-size="11" text-anchor="start" font-weight="normal" fill="#1a1a1a" >High</text>
<text x="776.20" y="127.74" font-size="11" text-anchor="middle" font-weight="normal" fill="#1a1a1a" >Low</text>
<text x="18.00" y="14.00" font-size="17" text-anchor="start" font-weight="bold" fill="#000" >a</text>
<text x="166.00" y="14.00" font-size="17" text-anchor="start" font-weight="bold" fill="#000" >b</text>
<text x="286.80" y="14.00" font-size="17" text-anchor="start" font-weight="bold" fill="#000" >c</text>
<text x="409.30" y="14.00" font-size="17" text-anchor="start" font-weight="bold" fill="#000" >d</text>
<text x="529.30" y="14.00" font-size="17" text-anchor="start" font-weight="bold" fill="#000" >e</text>
<text x="650.50" y="14.00" font-size="17" text-anchor="start" font-weight="bold" fill="#000" >f</text>
<rect x="47" y="206.5" width="92" height="123.5" fill="none" stroke="#222" stroke-width="1.15"/>
<line x1="87.2" y1="207" x2="87.2" y2="330" stroke="#222" stroke-width="1.1" stroke-dasharray="2.2,2"/>
<line x1="99.3" y1="207" x2="99.3" y2="330" stroke="#222" stroke-width="1.1" stroke-dasharray="2.2,2"/>
<polyline points="48.70,212.10 50.07,217.07 51.99,223.98 53.60,229.74 54.59,231.11 55.80,231.23 56.84,231.13 58.13,230.76 59.56,231.05 61.02,230.60 62.40,231.14 63.70,231.41 65.00,232.36 66.30,233.62 67.60,234.68 68.90,234.16 70.22,233.66 71.54,232.94 72.86,231.83 74.18,229.99 75.50,228.41 76.84,227.58 78.20,225.32 79.55,224.60 80.83,222.64 82.00,221.08 83.56,217.99 84.90,215.12 86.50,214.78 87.72,216.10 89.07,219.98 90.49,223.95 91.92,226.79 93.30,227.94 94.65,225.43 96.02,221.10 97.37,216.14 98.64,212.21 99.80,209.83 101.38,211.93 102.73,217.78 104.20,222.46 105.47,224.16 106.82,225.88 108.23,226.86 109.70,227.67 110.93,229.27 112.22,230.70 113.54,232.44 114.88,233.45 116.20,233.71 117.53,234.30 118.89,232.95 120.24,232.39 121.56,231.91 122.80,230.89 124.25,231.15 125.61,231.00 126.91,231.83 128.20,231.94 129.51,231.57 130.81,231.53 132.03,230.45 133.10,229.78 134.68,226.07 135.90,221.47 138.00,211.50" fill="none" stroke="#e2a24a" stroke-width="1.7" stroke-linejoin="round"/>
<g fill="#c98a2e"><circle cx="48.70" cy="212.10" r="0.85"/><circle cx="51.99" cy="223.98" r="0.85"/><circle cx="54.59" cy="231.11" r="0.85"/><circle cx="56.84" cy="231.13" r="0.85"/><circle cx="59.56" cy="231.05" r="0.85"/><circle cx="62.40" cy="231.14" r="0.85"/><circle cx="65.00" cy="232.36" r="0.85"/><circle cx="67.60" cy="234.68" r="0.85"/><circle cx="70.22" cy="233.66" r="0.85"/><circle cx="72.86" cy="231.83" r="0.85"/><circle cx="75.50" cy="228.41" r="0.85"/><circle cx="78.20" cy="225.32" r="0.85"/><circle cx="80.83" cy="222.64" r="0.85"/><circle cx="83.56" cy="217.99" r="0.85"/><circle cx="86.50" cy="214.78" r="0.85"/><circle cx="89.07" cy="219.98" r="0.85"/><circle cx="91.92" cy="226.79" r="0.85"/><circle cx="94.65" cy="225.43" r="0.85"/><circle cx="97.37" cy="216.14" r="0.85"/><circle cx="99.80" cy="209.83" r="0.85"/><circle cx="102.73" cy="217.78" r="0.85"/><circle cx="105.47" cy="224.16" r="0.85"/><circle cx="108.23" cy="226.86" r="0.85"/><circle cx="110.93" cy="229.27" r="0.85"/><circle cx="113.54" cy="232.44" r="0.85"/><circle cx="116.20" cy="233.71" r="0.85"/><circle cx="118.89" cy="232.95" r="0.85"/><circle cx="121.56" cy="231.91" r="0.85"/><circle cx="124.25" cy="231.15" r="0.85"/><circle cx="126.91" cy="231.83" r="0.85"/><circle cx="129.51" cy="231.57" r="0.85"/><circle cx="132.03" cy="230.45" r="0.85"/><circle cx="134.68" cy="226.07" r="0.85"/><circle cx="138.00" cy="211.50" r="0.85"/></g>
<polyline points="48.70,214.00 49.86,218.08 51.51,224.28 53.10,230.00 54.40,234.41 55.63,239.18 56.90,242.80 58.19,247.08 59.52,250.29 61.00,253.24 62.25,254.65 63.58,255.39 65.00,256.34 66.50,257.05 67.80,256.46 69.19,256.50 70.61,255.68 72.00,255.01 73.30,254.40 74.80,254.55 76.22,253.54 77.55,253.00 78.80,252.00 80.29,249.86 81.62,245.89 82.90,243.15 84.01,239.75 85.07,236.74 86.50,236.29 87.69,239.05 89.07,243.31 90.56,248.77 92.06,253.05 93.50,255.35 94.87,253.59 96.23,248.41 97.57,243.04 98.90,238.45 100.20,236.26 101.74,238.01 103.21,242.37 104.72,247.04 106.40,250.45 107.69,252.14 109.11,253.01 110.59,253.82 112.04,254.62 113.41,254.76 114.60,255.01 116.45,255.92 117.93,256.50 119.40,256.00 121.08,256.27 122.76,255.21 124.20,254.04 125.59,251.56 126.90,248.10 128.19,245.72 129.63,242.76 131.00,240.12 132.79,233.97 134.50,227.61 136.47,219.99 138.00,214.00" fill="none" stroke="#e2a24a" stroke-width="1.7" stroke-linejoin="round"/>
<g fill="#c98a2e"><circle cx="48.70" cy="214.00" r="0.85"/><circle cx="51.51" cy="224.28" r="0.85"/><circle cx="54.40" cy="234.41" r="0.85"/><circle cx="56.90" cy="242.80" r="0.85"/><circle cx="59.52" cy="250.29" r="0.85"/><circle cx="62.25" cy="254.65" r="0.85"/><circle cx="65.00" cy="256.34" r="0.85"/><circle cx="67.80" cy="256.46" r="0.85"/><circle cx="70.61" cy="255.68" r="0.85"/><circle cx="73.30" cy="254.40" r="0.85"/><circle cx="76.22" cy="253.54" r="0.85"/><circle cx="78.80" cy="252.00" r="0.85"/><circle cx="81.62" cy="245.89" r="0.85"/><circle cx="84.01" cy="239.75" r="0.85"/><circle cx="86.50" cy="236.29" r="0.85"/><circle cx="89.07" cy="243.31" r="0.85"/><circle cx="92.06" cy="253.05" r="0.85"/><circle cx="94.87" cy="253.59" r="0.85"/><circle cx="97.57" cy="243.04" r="0.85"/><circle cx="100.20" cy="236.26" r="0.85"/><circle cx="103.21" cy="242.37" r="0.85"/><circle cx="106.40" cy="250.45" r="0.85"/><circle cx="109.11" cy="253.01" r="0.85"/><circle cx="112.04" cy="254.62" r="0.85"/><circle cx="114.60" cy="255.01" r="0.85"/><circle cx="117.93" cy="256.50" r="0.85"/><circle cx="121.08" cy="256.27" r="0.85"/><circle cx="124.20" cy="254.04" r="0.85"/><circle cx="126.90" cy="248.10" r="0.85"/><circle cx="129.63" cy="242.76" r="0.85"/><circle cx="132.79" cy="233.97" r="0.85"/><circle cx="136.47" cy="219.99" r="0.85"/></g>
<polyline points="48.70,250.00 50.02,250.67 51.50,252.66 52.80,259.20 53.87,260.69 55.29,262.49 56.87,264.10 58.41,265.81 59.70,266.67 61.25,268.26 62.49,268.25 63.80,268.88 65.32,272.10 66.90,276.13 68.50,278.58 70.12,277.75 71.75,276.28 73.30,275.04 74.72,275.37 76.06,276.93 77.40,276.93 78.73,275.03 80.07,272.13 81.50,268.99 82.65,267.10 83.84,263.85 85.11,261.67 86.50,261.91 87.74,262.87 89.07,265.27 90.46,268.80 91.85,270.96 93.20,272.53 94.52,271.89 95.83,269.24 97.13,266.01 98.39,262.95 99.60,261.78 101.03,262.32 102.40,265.06 103.72,267.60 105.00,270.25 106.64,272.82 108.22,275.65 109.80,277.88 111.43,277.44 113.05,275.50 114.60,274.48 115.97,275.81 117.26,277.89 118.70,278.05 119.95,276.77 121.28,273.93 122.70,270.66 124.20,268.28 125.52,267.23 126.96,266.22 128.41,265.76 129.79,265.19 131.00,263.85 132.62,262.85 133.94,261.44 135.10,259.51 136.71,254.23 137.80,250.20" fill="none" stroke="#e2a24a" stroke-width="1.7" stroke-linejoin="round"/>
<g fill="#c98a2e"><circle cx="48.70" cy="250.00" r="0.85"/><circle cx="51.50" cy="252.66" r="0.85"/><circle cx="53.87" cy="260.69" r="0.85"/><circle cx="56.87" cy="264.10" r="0.85"/><circle cx="59.70" cy="266.67" r="0.85"/><circle cx="62.49" cy="268.25" r="0.85"/><circle cx="65.32" cy="272.10" r="0.85"/><circle cx="68.50" cy="278.58" r="0.85"/><circle cx="71.75" cy="276.28" r="0.85"/><circle cx="74.72" cy="275.37" r="0.85"/><circle cx="77.40" cy="276.93" r="0.85"/><circle cx="80.07" cy="272.13" r="0.85"/><circle cx="82.65" cy="267.10" r="0.85"/><circle cx="85.11" cy="261.67" r="0.85"/><circle cx="87.74" cy="262.87" r="0.85"/><circle cx="90.46" cy="268.80" r="0.85"/><circle cx="93.20" cy="272.53" r="0.85"/><circle cx="95.83" cy="269.24" r="0.85"/><circle cx="98.39" cy="262.95" r="0.85"/><circle cx="101.03" cy="262.32" r="0.85"/><circle cx="103.72" cy="267.60" r="0.85"/><circle cx="106.64" cy="272.82" r="0.85"/><circle cx="109.80" cy="277.88" r="0.85"/><circle cx="113.05" cy="275.50" r="0.85"/><circle cx="115.97" cy="275.81" r="0.85"/><circle cx="118.70" cy="278.05" r="0.85"/><circle cx="121.28" cy="273.93" r="0.85"/><circle cx="124.20" cy="268.28" r="0.85"/><circle cx="126.96" cy="266.22" r="0.85"/><circle cx="129.79" cy="265.19" r="0.85"/><circle cx="132.62" cy="262.85" r="0.85"/><circle cx="135.10" cy="259.51" r="0.85"/><circle cx="137.80" cy="250.20" r="0.85"/></g>
<polyline points="48.30,278.10 49.25,279.37 50.64,281.58 52.20,284.03 53.46,286.14 54.86,288.91 56.29,291.44 57.70,293.21 59.00,294.02 60.26,294.88 61.58,295.57 63.10,295.63 64.31,296.83 65.67,297.87 67.09,298.59 68.50,299.31 69.80,299.63 70.90,299.61 72.46,299.47 73.59,297.59 74.80,297.07 76.34,297.70 77.96,298.18 79.50,298.31 80.89,297.25 82.19,294.63 83.40,291.80 84.77,287.85 86.50,286.39 87.63,288.93 88.98,292.18 90.44,295.30 91.91,298.94 93.30,300.33 94.93,298.07 96.54,293.40 98.10,289.10 99.60,286.47 101.01,287.51 102.35,291.51 103.66,294.76 105.00,297.02 106.40,298.04 107.83,297.40 109.22,297.38 110.50,297.29 111.82,297.67 112.98,298.95 114.60,299.61 115.76,299.44 117.13,299.41 118.61,298.61 120.11,298.16 121.54,297.27 122.80,297.37 124.37,296.03 125.72,295.25 127.00,294.32 128.30,293.26 129.69,291.06 131.11,289.40 132.46,286.81 133.70,284.73 135.23,281.83 136.57,278.54 137.50,277.00" fill="none" stroke="#e2a24a" stroke-width="1.7" stroke-linejoin="round"/>
<g fill="#c98a2e"><circle cx="48.30" cy="278.10" r="0.85"/><circle cx="50.64" cy="281.58" r="0.85"/><circle cx="53.46" cy="286.14" r="0.85"/><circle cx="56.29" cy="291.44" r="0.85"/><circle cx="59.00" cy="294.02" r="0.85"/><circle cx="61.58" cy="295.57" r="0.85"/><circle cx="64.31" cy="296.83" r="0.85"/><circle cx="67.09" cy="298.59" r="0.85"/><circle cx="69.80" cy="299.63" r="0.85"/><circle cx="72.46" cy="299.47" r="0.85"/><circle cx="74.80" cy="297.07" r="0.85"/><circle cx="77.96" cy="298.18" r="0.85"/><circle cx="80.89" cy="297.25" r="0.85"/><circle cx="83.40" cy="291.80" r="0.85"/><circle cx="86.50" cy="286.39" r="0.85"/><circle cx="88.98" cy="292.18" r="0.85"/><circle cx="91.91" cy="298.94" r="0.85"/><circle cx="94.93" cy="298.07" r="0.85"/><circle cx="98.10" cy="289.10" r="0.85"/><circle cx="101.01" cy="287.51" r="0.85"/><circle cx="103.66" cy="294.76" r="0.85"/><circle cx="106.40" cy="298.04" r="0.85"/><circle cx="109.22" cy="297.38" r="0.85"/><circle cx="111.82" cy="297.67" r="0.85"/><circle cx="114.60" cy="299.61" r="0.85"/><circle cx="117.13" cy="299.41" r="0.85"/><circle cx="120.11" cy="298.16" r="0.85"/><circle cx="122.80" cy="297.37" r="0.85"/><circle cx="125.72" cy="295.25" r="0.85"/><circle cx="128.30" cy="293.26" r="0.85"/><circle cx="131.11" cy="289.40" r="0.85"/><circle cx="133.70" cy="284.73" r="0.85"/><circle cx="136.57" cy="278.54" r="0.85"/></g>
<polyline points="48.30,297.60 49.24,299.13 50.56,301.12 52.11,303.56 53.74,307.00 55.30,309.01 56.57,311.39 57.90,313.87 59.24,315.99 60.58,317.95 61.88,320.09 63.10,321.75 64.46,323.41 65.73,323.86 66.96,325.06 68.17,325.46 69.40,326.20 71.01,327.68 72.65,328.44 74.21,329.25 75.60,329.73 77.07,329.47 78.29,327.96 79.50,326.50 80.77,324.12 82.04,321.33 83.40,318.77 84.91,315.65 86.51,312.90 88.10,311.58 89.58,313.79 91.05,316.90 92.70,318.84 94.17,317.77 95.79,314.70 97.41,312.53 98.90,311.80 100.63,313.10 102.20,315.48 103.70,318.56 105.12,321.76 106.46,324.42 107.80,326.87 109.07,328.04 110.33,329.22 111.90,329.36 113.09,329.18 114.43,327.98 115.85,327.76 117.30,326.83 118.70,325.38 120.04,324.99 121.35,323.91 122.68,321.93 124.05,321.07 125.50,318.81 126.83,317.12 128.28,315.52 129.77,313.18 131.22,310.35 132.55,308.46 133.70,306.61 135.52,302.91 136.89,299.61 137.80,297.70" fill="none" stroke="#e2a24a" stroke-width="1.7" stroke-linejoin="round"/>
<g fill="#c98a2e"><circle cx="48.30" cy="297.60" r="0.85"/><circle cx="50.56" cy="301.12" r="0.85"/><circle cx="53.74" cy="307.00" r="0.85"/><circle cx="56.57" cy="311.39" r="0.85"/><circle cx="59.24" cy="315.99" r="0.85"/><circle cx="61.88" cy="320.09" r="0.85"/><circle cx="64.46" cy="323.41" r="0.85"/><circle cx="66.96" cy="325.06" r="0.85"/><circle cx="69.40" cy="326.20" r="0.85"/><circle cx="72.65" cy="328.44" r="0.85"/><circle cx="75.60" cy="329.73" r="0.85"/><circle cx="78.29" cy="327.96" r="0.85"/><circle cx="80.77" cy="324.12" r="0.85"/><circle cx="83.40" cy="318.77" r="0.85"/><circle cx="86.51" cy="312.90" r="0.85"/><circle cx="89.58" cy="313.79" r="0.85"/><circle cx="92.70" cy="318.84" r="0.85"/><circle cx="95.79" cy="314.70" r="0.85"/><circle cx="98.90" cy="311.80" r="0.85"/><circle cx="102.20" cy="315.48" r="0.85"/><circle cx="105.12" cy="321.76" r="0.85"/><circle cx="107.80" cy="326.87" r="0.85"/><circle cx="110.33" cy="329.22" r="0.85"/><circle cx="113.09" cy="329.18" r="0.85"/><circle cx="115.85" cy="327.76" r="0.85"/><circle cx="118.70" cy="325.38" r="0.85"/><circle cx="121.35" cy="323.91" r="0.85"/><circle cx="124.05" cy="321.07" r="0.85"/><circle cx="126.83" cy="317.12" r="0.85"/><circle cx="129.77" cy="313.18" r="0.85"/><circle cx="132.55" cy="308.46" r="0.85"/><circle cx="135.52" cy="302.91" r="0.85"/><circle cx="137.80" cy="297.70" r="0.85"/></g>
<line x1="48.90" y1="330" x2="48.90" y2="332.2" stroke="#222" stroke-width="1.1"/>
<line x1="55.20" y1="330" x2="55.20" y2="332.2" stroke="#222" stroke-width="1.1"/>
<line x1="61.50" y1="330" x2="61.50" y2="333.5" stroke="#222" stroke-width="1.1"/>
<line x1="67.80" y1="330" x2="67.80" y2="332.2" stroke="#222" stroke-width="1.1"/>
<line x1="74.10" y1="330" x2="74.10" y2="332.2" stroke="#222" stroke-width="1.1"/>
<line x1="80.40" y1="330" x2="80.40" y2="332.2" stroke="#222" stroke-width="1.1"/>
<line x1="86.70" y1="330" x2="86.70" y2="332.2" stroke="#222" stroke-width="1.1"/>
<line x1="93.00" y1="330" x2="93.00" y2="333.5" stroke="#222" stroke-width="1.1"/>
<line x1="99.30" y1="330" x2="99.30" y2="332.2" stroke="#222" stroke-width="1.1"/>
<line x1="105.60" y1="330" x2="105.60" y2="332.2" stroke="#222" stroke-width="1.1"/>
<line x1="111.90" y1="330" x2="111.90" y2="332.2" stroke="#222" stroke-width="1.1"/>
<line x1="118.20" y1="330" x2="118.20" y2="332.2" stroke="#222" stroke-width="1.1"/>
<line x1="124.50" y1="330" x2="124.50" y2="333.5" stroke="#222" stroke-width="1.1"/>
<line x1="130.80" y1="330" x2="130.80" y2="332.2" stroke="#222" stroke-width="1.1"/>
<line x1="137.10" y1="330" x2="137.10" y2="332.2" stroke="#222" stroke-width="1.1"/>
<text x="61.50" y="346.64" font-size="11" text-anchor="middle" font-weight="normal" fill="#1a1a1a" >−50</text>
<text x="93.00" y="346.64" font-size="11" text-anchor="middle" font-weight="normal" fill="#1a1a1a" >0</text>
<text x="124.50" y="346.64" font-size="11" text-anchor="middle" font-weight="normal" fill="#1a1a1a" >50</text>
<text x="93.00" y="360.5" font-size="11" text-anchor="middle" fill="#1a1a1a"><tspan font-style="italic">E</tspan>−<tspan font-style="italic">E</tspan><tspan font-size="7" dy="2.8">F</tspan><tspan dy="-2.8"> (meV)</tspan></text>
<text transform="translate(38.6,267.3) rotate(-90)" font-size="11.4" text-anchor="middle" fill="#1a1a1a">Intensity (a.u.)</text>
<text x="54.5" y="217.4" font-size="11" fill="#1a1a1a"><tspan font-style="italic">T</tspan>=31 K</text>
<text x="142.50" y="212.54" font-size="11" text-anchor="start" font-weight="normal" fill="#1a1a1a" >4 uc</text>
<text x="142.50" y="234.74" font-size="11" text-anchor="start" font-weight="normal" fill="#1a1a1a" >30 uc</text>
<text x="142.50" y="257.34" font-size="11" text-anchor="start" font-weight="normal" fill="#1a1a1a" >40 uc</text>
<text x="142.50" y="279.34" font-size="11" text-anchor="start" font-weight="normal" fill="#1a1a1a" >50 uc</text>
<text x="142.50" y="301.34" font-size="11" text-anchor="start" font-weight="normal" fill="#1a1a1a" >Bulk</text>
<text x="17.80" y="194.30" font-size="17" text-anchor="start" font-weight="bold" fill="#000" >g</text>
<rect x="208" y="206.6" width="93.19999999999999" height="122.79999999999998" fill="none" stroke="#222" stroke-width="1.15"/>
<line x1="250.5" y1="207" x2="250.5" y2="329" stroke="#222" stroke-width="1.1" stroke-dasharray="2.2,2"/>
<line x1="259.1" y1="207" x2="259.1" y2="329" stroke="#222" stroke-width="1.1" stroke-dasharray="2.2,2"/>
<polyline points="210.40,209.40 211.51,215.43 213.10,224.48 214.70,233.11 216.16,242.41 217.63,251.56 219.10,259.31 220.61,266.01 222.12,271.49 223.50,274.91 224.96,274.78 226.70,274.09 228.16,274.77 229.92,276.16 231.72,276.96 233.30,277.96 234.97,278.30 236.40,278.75 237.70,277.96 239.37,276.75 240.90,273.75 242.54,266.40 244.20,257.59 245.85,249.96 247.50,244.09 249.08,240.91 250.80,239.94 252.19,242.95 253.69,247.11 255.20,249.53 256.71,247.79 258.21,243.44 259.60,240.74 261.32,243.26 262.90,247.68 264.55,253.31 266.20,259.35 267.79,267.39 269.50,273.54 270.81,276.38 272.24,277.41 273.80,278.00 275.54,278.24 277.42,277.98 279.30,276.86 281.26,275.67 283.22,274.56 284.80,273.64 286.90,275.77 288.48,266.62 290.20,254.93 291.85,245.98 293.50,237.69 295.18,229.76 296.80,222.66 298.41,214.87 299.60,209.40" fill="none" stroke="#7cc47f" stroke-width="1.3" stroke-linejoin="round"/>
<g fill="#3f8f4a"><circle cx="210.40" cy="209.40" r="0.95"/><circle cx="213.10" cy="224.48" r="0.95"/><circle cx="216.16" cy="242.41" r="0.95"/><circle cx="219.10" cy="259.31" r="0.95"/><circle cx="222.12" cy="271.49" r="0.95"/><circle cx="224.96" cy="274.78" r="0.95"/><circle cx="228.16" cy="274.77" r="0.95"/><circle cx="231.72" cy="276.96" r="0.95"/><circle cx="234.97" cy="278.30" r="0.95"/><circle cx="237.70" cy="277.96" r="0.95"/><circle cx="240.90" cy="273.75" r="0.95"/><circle cx="244.20" cy="257.59" r="0.95"/><circle cx="247.50" cy="244.09" r="0.95"/><circle cx="250.80" cy="239.94" r="0.95"/><circle cx="253.69" cy="247.11" r="0.95"/><circle cx="256.71" cy="247.79" r="0.95"/><circle cx="259.60" cy="240.74" r="0.95"/><circle cx="262.90" cy="247.68" r="0.95"/><circle cx="266.20" cy="259.35" r="0.95"/><circle cx="269.50" cy="273.54" r="0.95"/><circle cx="272.24" cy="277.41" r="0.95"/><circle cx="275.54" cy="278.24" r="0.95"/><circle cx="279.30" cy="276.86" r="0.95"/><circle cx="283.22" cy="274.56" r="0.95"/><circle cx="286.90" cy="275.77" r="0.95"/><circle cx="290.20" cy="254.93" r="0.95"/><circle cx="293.50" cy="237.69" r="0.95"/><circle cx="296.80" cy="222.66" r="0.95"/><circle cx="299.60" cy="209.40" r="0.95"/></g>
<polyline points="210.70,285.10 212.06,292.67 213.80,301.31 215.44,307.48 216.90,311.31 218.50,311.45 219.86,317.87 221.60,325.04 223.05,326.48 224.68,326.49 226.30,326.38 227.84,325.97 229.36,324.27 230.90,323.49 232.49,322.05 234.09,320.88 235.60,320.40 237.60,321.72 239.50,321.80 241.50,314.99 243.40,306.49 245.00,299.42 246.50,293.90 248.09,288.50 249.60,285.18 250.80,285.53 252.00,288.91 253.51,297.30 255.10,303.58 256.74,297.31 258.20,289.14 259.80,284.95 261.56,289.53 263.70,296.55 265.18,302.18 266.73,307.80 268.30,312.50 269.83,315.86 271.37,318.65 273.00,320.88 274.81,322.45 276.70,323.12 278.50,324.07 280.13,324.92 281.65,326.22 283.10,326.68 285.09,326.60 287.00,324.75 289.04,318.89 290.90,312.29 292.15,311.86 293.30,311.30 294.82,306.55 296.40,299.88 297.99,291.77 299.20,285.10" fill="none" stroke="#7cc47f" stroke-width="1.3" stroke-linejoin="round"/>
<g fill="#3f8f4a"><circle cx="210.70" cy="285.10" r="0.95"/><circle cx="213.80" cy="301.31" r="0.95"/><circle cx="216.90" cy="311.31" r="0.95"/><circle cx="219.86" cy="317.87" r="0.95"/><circle cx="223.05" cy="326.48" r="0.95"/><circle cx="226.30" cy="326.38" r="0.95"/><circle cx="229.36" cy="324.27" r="0.95"/><circle cx="232.49" cy="322.05" r="0.95"/><circle cx="235.60" cy="320.40" r="0.95"/><circle cx="239.50" cy="321.80" r="0.95"/><circle cx="243.40" cy="306.49" r="0.95"/><circle cx="246.50" cy="293.90" r="0.95"/><circle cx="249.60" cy="285.18" r="0.95"/><circle cx="252.00" cy="288.91" r="0.95"/><circle cx="255.10" cy="303.58" r="0.95"/><circle cx="258.20" cy="289.14" r="0.95"/><circle cx="261.56" cy="289.53" r="0.95"/><circle cx="265.18" cy="302.18" r="0.95"/><circle cx="268.30" cy="312.50" r="0.95"/><circle cx="271.37" cy="318.65" r="0.95"/><circle cx="274.81" cy="322.45" r="0.95"/><circle cx="278.50" cy="324.07" r="0.95"/><circle cx="281.65" cy="326.22" r="0.95"/><circle cx="285.09" cy="326.60" r="0.95"/><circle cx="289.04" cy="318.89" r="0.95"/><circle cx="292.15" cy="311.86" r="0.95"/><circle cx="294.82" cy="306.55" r="0.95"/><circle cx="297.99" cy="291.77" r="0.95"/></g>
<line x1="208.55" y1="329.4" x2="208.55" y2="331.59999999999997" stroke="#222" stroke-width="1.1"/>
<line x1="215.10" y1="329.4" x2="215.10" y2="331.59999999999997" stroke="#222" stroke-width="1.1"/>
<line x1="221.65" y1="329.4" x2="221.65" y2="332.9" stroke="#222" stroke-width="1.1"/>
<line x1="228.20" y1="329.4" x2="228.20" y2="331.59999999999997" stroke="#222" stroke-width="1.1"/>
<line x1="234.75" y1="329.4" x2="234.75" y2="331.59999999999997" stroke="#222" stroke-width="1.1"/>
<line x1="241.30" y1="329.4" x2="241.30" y2="331.59999999999997" stroke="#222" stroke-width="1.1"/>
<line x1="247.85" y1="329.4" x2="247.85" y2="331.59999999999997" stroke="#222" stroke-width="1.1"/>
<line x1="254.40" y1="329.4" x2="254.40" y2="332.9" stroke="#222" stroke-width="1.1"/>
<line x1="260.95" y1="329.4" x2="260.95" y2="331.59999999999997" stroke="#222" stroke-width="1.1"/>
<line x1="267.50" y1="329.4" x2="267.50" y2="331.59999999999997" stroke="#222" stroke-width="1.1"/>
<line x1="274.05" y1="329.4" x2="274.05" y2="331.59999999999997" stroke="#222" stroke-width="1.1"/>
<line x1="280.60" y1="329.4" x2="280.60" y2="331.59999999999997" stroke="#222" stroke-width="1.1"/>
<line x1="287.15" y1="329.4" x2="287.15" y2="332.9" stroke="#222" stroke-width="1.1"/>
<line x1="293.70" y1="329.4" x2="293.70" y2="331.59999999999997" stroke="#222" stroke-width="1.1"/>
<line x1="300.25" y1="329.4" x2="300.25" y2="331.59999999999997" stroke="#222" stroke-width="1.1"/>
<text x="221.65" y="346.64" font-size="11" text-anchor="middle" font-weight="normal" fill="#1a1a1a" >−50</text>
<text x="254.40" y="346.64" font-size="11" text-anchor="middle" font-weight="normal" fill="#1a1a1a" >0</text>
<text x="287.15" y="346.64" font-size="11" text-anchor="middle" font-weight="normal" fill="#1a1a1a" >50</text>
<text x="254.40" y="360.5" font-size="11" text-anchor="middle" fill="#1a1a1a"><tspan font-style="italic">E</tspan>−<tspan font-style="italic">E</tspan><tspan font-size="7" dy="2.8">F</tspan><tspan dy="-2.8"> (meV)</tspan></text>
<text transform="translate(198.8,267.3) rotate(-90)" font-size="11.4" text-anchor="middle" fill="#1a1a1a">Intensity (a.u.)</text>
<text x="215.5" y="218" font-size="11" fill="#1a1a1a"><tspan font-style="italic">T</tspan>=42 K</text>
<text x="304.00" y="219.74" font-size="11" text-anchor="start" font-weight="normal" fill="#1a1a1a" >30 uc</text>
<text x="304.00" y="283.84" font-size="11" text-anchor="start" font-weight="normal" fill="#1a1a1a" >10 uc</text>
<text x="189.70" y="195.00" font-size="17" text-anchor="start" font-weight="bold" fill="#000" >h</text>
<rect x="368.5" y="205.5" width="93.0" height="124.0" fill="none" stroke="#222" stroke-width="1.15"/>
<polyline points="368.50,213.90 369.76,214.23 371.54,215.47 373.20,216.10 374.96,218.66 376.80,220.69 378.02,221.62 379.38,221.65 380.80,221.99 382.20,222.80 383.57,223.58 384.95,224.95 386.33,225.88 387.70,226.85 389.01,227.24 390.29,227.60 391.63,227.91 393.10,227.39 394.45,227.21 395.94,227.68 397.46,226.53 398.95,226.62 400.30,225.84 401.80,223.96 403.17,223.12 404.46,221.39 405.70,219.43 407.27,217.39 408.73,215.34 410.20,212.64 411.73,210.76 413.27,208.57 414.70,207.93 416.44,209.93 418.30,213.33 419.54,214.41 420.94,216.03 422.39,217.16 423.80,218.59 425.11,219.75 426.39,221.30 427.73,223.07 429.20,224.66 430.55,225.24 432.04,226.66 433.56,226.92 435.05,227.38 436.40,227.63 437.83,227.80 439.10,227.50 440.37,226.67 441.80,226.90 443.15,226.16 444.64,225.02 446.16,224.05 447.65,223.13 449.00,221.57 450.46,221.08 451.76,219.44 453.03,218.13 454.40,217.27 456.06,216.68 457.89,215.12 459.55,214.77 460.70,213.90" fill="none" stroke="#d23a3a" stroke-width="1.5" stroke-linejoin="round"/>
<polyline points="368.50,250.00 369.65,251.06 371.30,251.40 373.17,252.31 375.00,253.58 376.39,254.88 377.82,256.23 379.28,257.42 380.74,258.79 382.20,259.48 383.71,260.90 385.29,262.53 386.84,264.40 388.28,264.94 389.50,265.47 391.31,261.61 393.10,257.66 394.31,257.50 395.72,258.05 397.25,258.40 398.80,258.56 400.30,257.89 401.74,257.27 403.18,256.04 404.62,254.65 406.06,252.84 407.50,252.19 408.94,249.89 410.38,248.77 411.82,246.92 413.26,244.65 414.70,244.56 416.14,245.45 417.58,246.95 419.01,248.24 420.45,249.96 421.90,251.51 423.36,253.64 424.82,254.31 426.28,256.03 427.74,256.78 429.20,258.12 430.70,259.14 432.26,258.60 433.78,259.45 435.19,259.38 436.40,260.29 438.31,263.31 440.00,265.13 441.18,265.15 442.47,263.20 443.88,260.92 445.40,259.40 446.71,259.09 448.11,258.40 449.57,257.65 451.07,256.80 452.60,256.14 454.29,254.93 456.16,254.01 458.00,251.70 459.58,251.15 460.70,250.00" fill="none" stroke="#b070c0" stroke-width="1.5" stroke-linejoin="round"/>
<polyline points="368.50,282.90 370.08,283.31 372.10,283.42 373.80,287.17 375.60,290.11 376.94,291.36 378.37,291.42 380.00,292.37 381.42,293.53 382.99,295.52 384.59,296.34 386.10,296.76 387.44,296.63 388.69,295.71 389.97,294.54 391.40,293.90 392.72,294.39 394.16,293.73 395.65,294.30 397.09,293.47 398.40,293.17 400.23,292.50 401.86,290.99 403.60,289.77 405.10,289.07 406.70,287.52 408.30,286.03 409.80,284.73 411.60,284.05 413.30,283.52 415.00,282.95 416.30,283.24 417.59,282.92 418.92,284.14 420.30,284.55 421.75,285.76 423.24,286.78 424.79,287.62 426.40,288.55 427.70,290.31 429.01,290.41 430.37,291.64 431.82,292.39 433.40,293.20 434.90,294.43 436.57,295.57 438.31,295.74 440.02,296.90 441.62,297.05 443.00,297.46 444.63,296.64 445.93,295.03 447.08,293.43 448.30,292.21 450.10,291.97 451.90,290.88 453.50,289.62 455.30,287.60 457.00,285.10 458.56,283.65 460.23,282.85 461.40,282.90" fill="none" stroke="#6a4aa8" stroke-width="1.5" stroke-linejoin="round"/>
<polyline points="368.50,313.50 369.41,314.25 370.71,315.65 372.25,317.65 373.90,319.19 375.33,320.93 376.92,322.77 378.58,324.89 380.24,326.78 381.80,327.75 383.24,327.96 384.63,328.11 385.99,328.09 387.36,327.67 388.80,327.34 390.35,326.71 391.98,326.42 393.62,326.53 395.19,325.09 396.60,324.90 398.14,324.46 399.52,324.19 400.76,322.92 401.90,322.07 403.71,318.97 405.40,316.00 406.87,314.65 408.43,314.13 409.80,313.55 411.21,314.14 412.40,314.82 413.70,317.72 415.00,320.41 416.29,318.58 417.60,315.27 418.79,313.74 420.30,312.70 421.84,314.07 423.67,316.34 425.50,318.23 426.74,319.95 427.93,322.00 429.23,323.15 430.80,324.51 432.05,325.27 433.44,326.21 434.93,326.82 436.47,327.43 438.00,327.49 439.50,327.65 441.00,327.98 442.56,327.84 444.12,328.04 445.63,327.52 447.04,328.11 448.30,327.23 450.20,326.72 451.70,324.66 453.50,322.10 455.03,320.21 456.84,318.26 458.68,316.51 460.28,314.70 461.40,313.20" fill="none" stroke="#5aae66" stroke-width="1.5" stroke-linejoin="round"/>
<line x1="369.34" y1="329.5" x2="369.34" y2="331.7" stroke="#222" stroke-width="1.1"/>
<line x1="375.82" y1="329.5" x2="375.82" y2="331.7" stroke="#222" stroke-width="1.1"/>
<line x1="382.30" y1="329.5" x2="382.30" y2="333.0" stroke="#222" stroke-width="1.1"/>
<line x1="388.78" y1="329.5" x2="388.78" y2="331.7" stroke="#222" stroke-width="1.1"/>
<line x1="395.26" y1="329.5" x2="395.26" y2="331.7" stroke="#222" stroke-width="1.1"/>
<line x1="401.74" y1="329.5" x2="401.74" y2="331.7" stroke="#222" stroke-width="1.1"/>
<line x1="408.22" y1="329.5" x2="408.22" y2="331.7" stroke="#222" stroke-width="1.1"/>
<line x1="414.70" y1="329.5" x2="414.70" y2="333.0" stroke="#222" stroke-width="1.1"/>
<line x1="421.18" y1="329.5" x2="421.18" y2="331.7" stroke="#222" stroke-width="1.1"/>
<line x1="427.66" y1="329.5" x2="427.66" y2="331.7" stroke="#222" stroke-width="1.1"/>
<line x1="434.14" y1="329.5" x2="434.14" y2="331.7" stroke="#222" stroke-width="1.1"/>
<line x1="440.62" y1="329.5" x2="440.62" y2="331.7" stroke="#222" stroke-width="1.1"/>
<line x1="447.10" y1="329.5" x2="447.10" y2="333.0" stroke="#222" stroke-width="1.1"/>
<line x1="453.58" y1="329.5" x2="453.58" y2="331.7" stroke="#222" stroke-width="1.1"/>
<line x1="460.06" y1="329.5" x2="460.06" y2="331.7" stroke="#222" stroke-width="1.1"/>
<text x="382.30" y="346.64" font-size="11" text-anchor="middle" font-weight="normal" fill="#1a1a1a" >−50</text>
<text x="414.70" y="346.64" font-size="11" text-anchor="middle" font-weight="normal" fill="#1a1a1a" >0</text>
<text x="447.10" y="346.64" font-size="11" text-anchor="middle" font-weight="normal" fill="#1a1a1a" >50</text>
<text x="414.70" y="360.5" font-size="11" text-anchor="middle" fill="#1a1a1a"><tspan font-style="italic">E</tspan>−<tspan font-style="italic">E</tspan><tspan font-size="7" dy="2.8">F</tspan><tspan dy="-2.8"> (meV)</tspan></text>
<text transform="translate(358.8,267.3) rotate(-90)" font-size="11.4" text-anchor="middle" fill="#1a1a1a">Intensity (a.u.)</text>
<text x="376.00" y="218.24" font-size="11" text-anchor="start" font-weight="normal" fill="#1a1a1a" >10 uc</text>
<text x="430.00" y="221.64" font-size="11" text-anchor="start" font-weight="normal" fill="#1a1a1a" >78 K</text>
<text x="430.00" y="254.34" font-size="11" text-anchor="start" font-weight="normal" fill="#1a1a1a" >50 K</text>
<text x="430.00" y="284.94" font-size="11" text-anchor="start" font-weight="normal" fill="#1a1a1a" >47 K</text>
<text x="430.00" y="318.54" font-size="11" text-anchor="start" font-weight="normal" fill="#1a1a1a" >42 K</text>
<text x="349.70" y="195.00" font-size="17" text-anchor="start" font-weight="bold" fill="#000" >i</text>
<rect x="482.8" y="204.7" width="93.69999999999999" height="124.0" fill="none" stroke="#222" stroke-width="1.15"/>
<polyline points="485.90,208.70 487.34,209.74 489.20,211.61 490.86,213.92 492.50,216.17 494.10,218.90 495.70,221.55 497.24,223.69 499.00,224.66 500.45,226.11 502.08,227.45 503.90,228.81 505.43,228.88 507.09,229.25 508.81,228.97 510.50,228.96 512.21,229.49 513.96,230.83 515.63,231.11 517.10,230.73 519.31,228.48 521.20,225.90 523.30,222.70 525.20,219.33 527.70,215.88 529.70,215.79 531.80,216.48 533.45,217.55 535.10,219.78 537.15,222.87 539.20,225.83 540.75,228.80 542.50,230.23 544.19,230.78 546.15,230.09 548.20,229.20 549.77,228.58 551.39,228.90 553.05,227.90 554.70,227.89 556.42,226.83 558.20,226.26 559.88,226.09 561.30,224.92 563.16,223.71 564.60,221.00 566.05,217.57 567.90,214.25 569.45,212.79 571.36,211.34 573.16,210.13 574.40,208.70" fill="none" stroke="#d23a3a" stroke-width="1.5" stroke-linejoin="round"/>
<g fill="#b02a2a"><circle cx="485.90" cy="208.70" r="0.85"/><circle cx="487.34" cy="209.74" r="0.85"/><circle cx="489.20" cy="211.61" r="0.85"/><circle cx="490.86" cy="213.92" r="0.85"/><circle cx="492.50" cy="216.17" r="0.85"/><circle cx="494.10" cy="218.90" r="0.85"/><circle cx="495.70" cy="221.55" r="0.85"/><circle cx="497.24" cy="223.69" r="0.85"/><circle cx="499.00" cy="224.66" r="0.85"/><circle cx="500.45" cy="226.11" r="0.85"/><circle cx="502.08" cy="227.45" r="0.85"/><circle cx="503.90" cy="228.81" r="0.85"/><circle cx="505.43" cy="228.88" r="0.85"/><circle cx="507.09" cy="229.25" r="0.85"/><circle cx="508.81" cy="228.97" r="0.85"/><circle cx="510.50" cy="228.96" r="0.85"/><circle cx="512.21" cy="229.49" r="0.85"/><circle cx="513.96" cy="230.83" r="0.85"/><circle cx="515.63" cy="231.11" r="0.85"/><circle cx="517.10" cy="230.73" r="0.85"/><circle cx="519.31" cy="228.48" r="0.85"/><circle cx="521.20" cy="225.90" r="0.85"/><circle cx="523.30" cy="222.70" r="0.85"/><circle cx="525.20" cy="219.33" r="0.85"/><circle cx="527.70" cy="215.88" r="0.85"/><circle cx="529.70" cy="215.79" r="0.85"/><circle cx="531.80" cy="216.48" r="0.85"/><circle cx="533.45" cy="217.55" r="0.85"/><circle cx="535.10" cy="219.78" r="0.85"/><circle cx="537.15" cy="222.87" r="0.85"/><circle cx="539.20" cy="225.83" r="0.85"/><circle cx="540.75" cy="228.80" r="0.85"/><circle cx="542.50" cy="230.23" r="0.85"/><circle cx="544.19" cy="230.78" r="0.85"/><circle cx="546.15" cy="230.09" r="0.85"/><circle cx="548.20" cy="229.20" r="0.85"/><circle cx="549.77" cy="228.58" r="0.85"/><circle cx="551.39" cy="228.90" r="0.85"/><circle cx="553.05" cy="227.90" r="0.85"/><circle cx="554.70" cy="227.89" r="0.85"/><circle cx="556.42" cy="226.83" r="0.85"/><circle cx="558.20" cy="226.26" r="0.85"/><circle cx="559.88" cy="226.09" r="0.85"/><circle cx="561.30" cy="224.92" r="0.85"/><circle cx="563.16" cy="223.71" r="0.85"/><circle cx="564.60" cy="221.00" r="0.85"/><circle cx="566.05" cy="217.57" r="0.85"/><circle cx="567.90" cy="214.25" r="0.85"/><circle cx="569.45" cy="212.79" r="0.85"/><circle cx="571.36" cy="211.34" r="0.85"/><circle cx="573.16" cy="210.13" r="0.85"/><circle cx="574.40" cy="208.70" r="0.85"/></g>
<polyline points="485.90,235.00 487.20,235.15 489.04,236.10 490.80,237.14 492.79,240.87 494.90,243.68 496.74,245.83 498.77,248.06 500.70,250.40 502.40,253.03 504.00,255.02 505.60,255.61 507.20,254.23 508.81,251.28 510.50,248.75 512.34,248.76 514.26,250.48 516.20,250.72 518.10,249.25 520.01,248.36 522.00,246.29 523.61,244.46 525.31,242.19 526.97,240.02 528.50,238.65 530.25,238.92 531.82,240.08 533.40,241.91 534.94,242.37 536.49,244.53 538.40,245.34 539.82,246.40 541.41,247.79 543.11,248.79 544.86,249.45 546.60,250.09 548.40,251.65 550.30,252.93 552.20,254.70 554.00,254.92 555.60,255.28 557.71,254.14 559.46,250.38 561.30,248.02 562.89,247.09 564.55,246.00 566.24,244.25 567.90,242.78 569.68,240.61 571.56,238.72 573.23,235.61 574.40,234.10" fill="none" stroke="#6a4aa8" stroke-width="1.5" stroke-linejoin="round"/>
<g fill="#50388a"><circle cx="485.90" cy="235.00" r="0.85"/><circle cx="487.20" cy="235.15" r="0.85"/><circle cx="489.04" cy="236.10" r="0.85"/><circle cx="490.80" cy="237.14" r="0.85"/><circle cx="492.79" cy="240.87" r="0.85"/><circle cx="494.90" cy="243.68" r="0.85"/><circle cx="496.74" cy="245.83" r="0.85"/><circle cx="498.77" cy="248.06" r="0.85"/><circle cx="500.70" cy="250.40" r="0.85"/><circle cx="502.40" cy="253.03" r="0.85"/><circle cx="504.00" cy="255.02" r="0.85"/><circle cx="505.60" cy="255.61" r="0.85"/><circle cx="507.20" cy="254.23" r="0.85"/><circle cx="508.81" cy="251.28" r="0.85"/><circle cx="510.50" cy="248.75" r="0.85"/><circle cx="512.34" cy="248.76" r="0.85"/><circle cx="514.26" cy="250.48" r="0.85"/><circle cx="516.20" cy="250.72" r="0.85"/><circle cx="518.10" cy="249.25" r="0.85"/><circle cx="520.01" cy="248.36" r="0.85"/><circle cx="522.00" cy="246.29" r="0.85"/><circle cx="523.61" cy="244.46" r="0.85"/><circle cx="525.31" cy="242.19" r="0.85"/><circle cx="526.97" cy="240.02" r="0.85"/><circle cx="528.50" cy="238.65" r="0.85"/><circle cx="530.25" cy="238.92" r="0.85"/><circle cx="531.82" cy="240.08" r="0.85"/><circle cx="533.40" cy="241.91" r="0.85"/><circle cx="534.94" cy="242.37" r="0.85"/><circle cx="536.49" cy="244.53" r="0.85"/><circle cx="538.40" cy="245.34" r="0.85"/><circle cx="539.82" cy="246.40" r="0.85"/><circle cx="541.41" cy="247.79" r="0.85"/><circle cx="543.11" cy="248.79" r="0.85"/><circle cx="544.86" cy="249.45" r="0.85"/><circle cx="546.60" cy="250.09" r="0.85"/><circle cx="548.40" cy="251.65" r="0.85"/><circle cx="550.30" cy="252.93" r="0.85"/><circle cx="552.20" cy="254.70" r="0.85"/><circle cx="554.00" cy="254.92" r="0.85"/><circle cx="555.60" cy="255.28" r="0.85"/><circle cx="557.71" cy="254.14" r="0.85"/><circle cx="559.46" cy="250.38" r="0.85"/><circle cx="561.30" cy="248.02" r="0.85"/><circle cx="562.89" cy="247.09" r="0.85"/><circle cx="564.55" cy="246.00" r="0.85"/><circle cx="566.24" cy="244.25" r="0.85"/><circle cx="567.90" cy="242.78" r="0.85"/><circle cx="569.68" cy="240.61" r="0.85"/><circle cx="571.56" cy="238.72" r="0.85"/><circle cx="573.23" cy="235.61" r="0.85"/><circle cx="574.40" cy="234.10" r="0.85"/></g>
<polyline points="486.30,259.20 487.69,261.02 489.65,263.44 491.50,265.36 493.66,269.20 495.70,273.31 497.54,274.95 499.90,275.79 501.34,276.58 503.06,276.52 504.89,276.71 506.69,276.61 508.30,277.33 510.07,277.40 511.71,276.93 513.21,276.87 514.60,275.57 516.88,274.40 518.90,272.88 521.08,271.09 523.10,269.11 524.65,267.65 526.20,267.38 528.23,268.65 530.40,269.69 532.50,269.04 534.60,267.31 536.70,268.46 538.80,269.91 540.83,272.64 543.00,275.25 544.41,276.11 545.95,276.52 548.30,276.94 549.79,277.13 551.61,277.66 553.63,277.15 555.70,277.31 557.70,277.78 559.48,277.17 560.90,276.71 563.52,274.42 565.10,271.85 567.20,268.49 569.30,265.93 571.66,262.85 573.50,260.30" fill="none" stroke="#62b26c" stroke-width="1.5" stroke-linejoin="round"/>
<g fill="#3f8f4a"><circle cx="486.30" cy="259.20" r="0.85"/><circle cx="487.69" cy="261.02" r="0.85"/><circle cx="489.65" cy="263.44" r="0.85"/><circle cx="491.50" cy="265.36" r="0.85"/><circle cx="493.66" cy="269.20" r="0.85"/><circle cx="495.70" cy="273.31" r="0.85"/><circle cx="497.54" cy="274.95" r="0.85"/><circle cx="499.90" cy="275.79" r="0.85"/><circle cx="501.34" cy="276.58" r="0.85"/><circle cx="503.06" cy="276.52" r="0.85"/><circle cx="504.89" cy="276.71" r="0.85"/><circle cx="506.69" cy="276.61" r="0.85"/><circle cx="508.30" cy="277.33" r="0.85"/><circle cx="510.07" cy="277.40" r="0.85"/><circle cx="511.71" cy="276.93" r="0.85"/><circle cx="513.21" cy="276.87" r="0.85"/><circle cx="514.60" cy="275.57" r="0.85"/><circle cx="516.88" cy="274.40" r="0.85"/><circle cx="518.90" cy="272.88" r="0.85"/><circle cx="521.08" cy="271.09" r="0.85"/><circle cx="523.10" cy="269.11" r="0.85"/><circle cx="524.65" cy="267.65" r="0.85"/><circle cx="526.20" cy="267.38" r="0.85"/><circle cx="528.23" cy="268.65" r="0.85"/><circle cx="530.40" cy="269.69" r="0.85"/><circle cx="532.50" cy="269.04" r="0.85"/><circle cx="534.60" cy="267.31" r="0.85"/><circle cx="536.70" cy="268.46" r="0.85"/><circle cx="538.80" cy="269.91" r="0.85"/><circle cx="540.83" cy="272.64" r="0.85"/><circle cx="543.00" cy="275.25" r="0.85"/><circle cx="544.41" cy="276.11" r="0.85"/><circle cx="545.95" cy="276.52" r="0.85"/><circle cx="548.30" cy="276.94" r="0.85"/><circle cx="549.79" cy="277.13" r="0.85"/><circle cx="551.61" cy="277.66" r="0.85"/><circle cx="553.63" cy="277.15" r="0.85"/><circle cx="555.70" cy="277.31" r="0.85"/><circle cx="557.70" cy="277.78" r="0.85"/><circle cx="559.48" cy="277.17" r="0.85"/><circle cx="560.90" cy="276.71" r="0.85"/><circle cx="563.52" cy="274.42" r="0.85"/><circle cx="565.10" cy="271.85" r="0.85"/><circle cx="567.20" cy="268.49" r="0.85"/><circle cx="569.30" cy="265.93" r="0.85"/><circle cx="571.66" cy="262.85" r="0.85"/><circle cx="573.50" cy="260.30" r="0.85"/></g>
<polyline points="486.30,284.40 487.69,286.18 489.65,287.45 491.50,289.33 493.53,292.62 495.70,296.00 497.08,297.31 498.59,298.01 500.23,298.54 502.00,299.13 503.58,299.36 505.30,299.22 507.08,298.96 508.81,298.69 510.40,298.25 512.14,297.58 513.73,298.10 515.25,297.39 516.80,297.16 518.46,296.01 520.16,295.02 521.75,293.31 523.10,292.67 524.78,293.20 526.20,294.69 528.29,297.84 530.40,299.27 531.94,297.34 533.60,294.91 535.10,294.35 536.83,293.06 538.80,292.66 540.42,293.83 542.17,294.88 544.08,296.49 546.20,296.74 547.81,297.62 549.59,298.48 551.45,298.98 553.31,299.42 555.09,298.83 556.70,299.01 558.82,298.30 560.73,297.35 562.48,296.78 564.10,295.07 566.03,293.34 567.72,290.54 569.30,288.93 571.72,286.05 573.50,284.40" fill="none" stroke="#d68a3e" stroke-width="1.5" stroke-linejoin="round"/>
<g fill="#b36e28"><circle cx="486.30" cy="284.40" r="0.85"/><circle cx="487.69" cy="286.18" r="0.85"/><circle cx="489.65" cy="287.45" r="0.85"/><circle cx="491.50" cy="289.33" r="0.85"/><circle cx="493.53" cy="292.62" r="0.85"/><circle cx="495.70" cy="296.00" r="0.85"/><circle cx="497.08" cy="297.31" r="0.85"/><circle cx="498.59" cy="298.01" r="0.85"/><circle cx="500.23" cy="298.54" r="0.85"/><circle cx="502.00" cy="299.13" r="0.85"/><circle cx="503.58" cy="299.36" r="0.85"/><circle cx="505.30" cy="299.22" r="0.85"/><circle cx="507.08" cy="298.96" r="0.85"/><circle cx="508.81" cy="298.69" r="0.85"/><circle cx="510.40" cy="298.25" r="0.85"/><circle cx="512.14" cy="297.58" r="0.85"/><circle cx="513.73" cy="298.10" r="0.85"/><circle cx="515.25" cy="297.39" r="0.85"/><circle cx="516.80" cy="297.16" r="0.85"/><circle cx="518.46" cy="296.01" r="0.85"/><circle cx="520.16" cy="295.02" r="0.85"/><circle cx="521.75" cy="293.31" r="0.85"/><circle cx="523.10" cy="292.67" r="0.85"/><circle cx="524.78" cy="293.20" r="0.85"/><circle cx="526.20" cy="294.69" r="0.85"/><circle cx="528.29" cy="297.84" r="0.85"/><circle cx="530.40" cy="299.27" r="0.85"/><circle cx="531.94" cy="297.34" r="0.85"/><circle cx="533.60" cy="294.91" r="0.85"/><circle cx="535.10" cy="294.35" r="0.85"/><circle cx="536.83" cy="293.06" r="0.85"/><circle cx="538.80" cy="292.66" r="0.85"/><circle cx="540.42" cy="293.83" r="0.85"/><circle cx="542.17" cy="294.88" r="0.85"/><circle cx="544.08" cy="296.49" r="0.85"/><circle cx="546.20" cy="296.74" r="0.85"/><circle cx="547.81" cy="297.62" r="0.85"/><circle cx="549.59" cy="298.48" r="0.85"/><circle cx="551.45" cy="298.98" r="0.85"/><circle cx="553.31" cy="299.42" r="0.85"/><circle cx="555.09" cy="298.83" r="0.85"/><circle cx="556.70" cy="299.01" r="0.85"/><circle cx="558.82" cy="298.30" r="0.85"/><circle cx="560.73" cy="297.35" r="0.85"/><circle cx="562.48" cy="296.78" r="0.85"/><circle cx="564.10" cy="295.07" r="0.85"/><circle cx="566.03" cy="293.34" r="0.85"/><circle cx="567.72" cy="290.54" r="0.85"/><circle cx="569.30" cy="288.93" r="0.85"/><circle cx="571.72" cy="286.05" r="0.85"/><circle cx="573.50" cy="284.40" r="0.85"/></g>
<polyline points="486.30,308.60 487.61,309.98 489.49,312.74 491.50,315.30 492.97,316.37 494.51,318.75 496.12,320.68 497.80,322.05 499.60,323.85 501.50,325.29 503.40,326.66 505.20,327.38 506.85,327.46 508.42,326.60 509.95,325.05 511.50,323.96 513.74,323.56 515.98,323.32 517.80,322.02 520.30,317.33 522.80,313.93 525.20,315.27 527.50,320.54 529.80,327.11 532.30,320.14 534.80,314.91 537.30,314.25 539.80,317.63 541.22,318.89 543.00,320.50 544.57,321.47 546.38,321.50 548.30,322.10 549.80,323.41 551.39,325.72 553.00,326.69 554.60,327.66 556.70,326.78 558.80,325.08 560.90,323.63 562.48,322.61 564.05,320.90 565.63,319.45 567.20,318.31 569.53,314.63 571.87,310.78 573.50,308.60" fill="none" stroke="#3a4aa8" stroke-width="1.5" stroke-linejoin="round"/>
<g fill="#2a3890"><circle cx="486.30" cy="308.60" r="0.85"/><circle cx="487.61" cy="309.98" r="0.85"/><circle cx="489.49" cy="312.74" r="0.85"/><circle cx="491.50" cy="315.30" r="0.85"/><circle cx="492.97" cy="316.37" r="0.85"/><circle cx="494.51" cy="318.75" r="0.85"/><circle cx="496.12" cy="320.68" r="0.85"/><circle cx="497.80" cy="322.05" r="0.85"/><circle cx="499.60" cy="323.85" r="0.85"/><circle cx="501.50" cy="325.29" r="0.85"/><circle cx="503.40" cy="326.66" r="0.85"/><circle cx="505.20" cy="327.38" r="0.85"/><circle cx="506.85" cy="327.46" r="0.85"/><circle cx="508.42" cy="326.60" r="0.85"/><circle cx="509.95" cy="325.05" r="0.85"/><circle cx="511.50" cy="323.96" r="0.85"/><circle cx="513.74" cy="323.56" r="0.85"/><circle cx="515.98" cy="323.32" r="0.85"/><circle cx="517.80" cy="322.02" r="0.85"/><circle cx="520.30" cy="317.33" r="0.85"/><circle cx="522.80" cy="313.93" r="0.85"/><circle cx="525.20" cy="315.27" r="0.85"/><circle cx="527.50" cy="320.54" r="0.85"/><circle cx="529.80" cy="327.11" r="0.85"/><circle cx="532.30" cy="320.14" r="0.85"/><circle cx="534.80" cy="314.91" r="0.85"/><circle cx="537.30" cy="314.25" r="0.85"/><circle cx="539.80" cy="317.63" r="0.85"/><circle cx="541.22" cy="318.89" r="0.85"/><circle cx="543.00" cy="320.50" r="0.85"/><circle cx="544.57" cy="321.47" r="0.85"/><circle cx="546.38" cy="321.50" r="0.85"/><circle cx="548.30" cy="322.10" r="0.85"/><circle cx="549.80" cy="323.41" r="0.85"/><circle cx="551.39" cy="325.72" r="0.85"/><circle cx="553.00" cy="326.69" r="0.85"/><circle cx="554.60" cy="327.66" r="0.85"/><circle cx="556.70" cy="326.78" r="0.85"/><circle cx="558.80" cy="325.08" r="0.85"/><circle cx="560.90" cy="323.63" r="0.85"/><circle cx="562.48" cy="322.61" r="0.85"/><circle cx="564.05" cy="320.90" r="0.85"/><circle cx="565.63" cy="319.45" r="0.85"/><circle cx="567.20" cy="318.31" r="0.85"/><circle cx="569.53" cy="314.63" r="0.85"/><circle cx="571.87" cy="310.78" r="0.85"/><circle cx="573.50" cy="308.60" r="0.85"/></g>
<line x1="486.00" y1="328.7" x2="486.00" y2="330.9" stroke="#222" stroke-width="1.1"/>
<line x1="492.30" y1="328.7" x2="492.30" y2="330.9" stroke="#222" stroke-width="1.1"/>
<line x1="498.60" y1="328.7" x2="498.60" y2="332.2" stroke="#222" stroke-width="1.1"/>
<line x1="504.90" y1="328.7" x2="504.90" y2="330.9" stroke="#222" stroke-width="1.1"/>
<line x1="511.20" y1="328.7" x2="511.20" y2="330.9" stroke="#222" stroke-width="1.1"/>
<line x1="517.50" y1="328.7" x2="517.50" y2="330.9" stroke="#222" stroke-width="1.1"/>
<line x1="523.80" y1="328.7" x2="523.80" y2="330.9" stroke="#222" stroke-width="1.1"/>
<line x1="530.10" y1="328.7" x2="530.10" y2="332.2" stroke="#222" stroke-width="1.1"/>
<line x1="536.40" y1="328.7" x2="536.40" y2="330.9" stroke="#222" stroke-width="1.1"/>
<line x1="542.70" y1="328.7" x2="542.70" y2="330.9" stroke="#222" stroke-width="1.1"/>
<line x1="549.00" y1="328.7" x2="549.00" y2="330.9" stroke="#222" stroke-width="1.1"/>
<line x1="555.30" y1="328.7" x2="555.30" y2="330.9" stroke="#222" stroke-width="1.1"/>
<line x1="561.60" y1="328.7" x2="561.60" y2="332.2" stroke="#222" stroke-width="1.1"/>
<line x1="567.90" y1="328.7" x2="567.90" y2="330.9" stroke="#222" stroke-width="1.1"/>
<line x1="574.20" y1="328.7" x2="574.20" y2="330.9" stroke="#222" stroke-width="1.1"/>
<text x="498.60" y="346.64" font-size="11" text-anchor="middle" font-weight="normal" fill="#1a1a1a" >−50</text>
<text x="530.10" y="346.64" font-size="11" text-anchor="middle" font-weight="normal" fill="#1a1a1a" >0</text>
<text x="561.60" y="346.64" font-size="11" text-anchor="middle" font-weight="normal" fill="#1a1a1a" >50</text>
<text x="530.10" y="360.5" font-size="11" text-anchor="middle" fill="#1a1a1a"><tspan font-style="italic">E</tspan>−<tspan font-style="italic">E</tspan><tspan font-size="7" dy="2.8">F</tspan><tspan dy="-2.8"> (meV)</tspan></text>
<text x="495.00" y="219.04" font-size="11" text-anchor="start" font-weight="normal" fill="#1a1a1a" >30 uc</text>
<text x="541.80" y="219.04" font-size="11" text-anchor="start" font-weight="normal" fill="#1a1a1a" >76 K</text>
<text x="541.80" y="244.84" font-size="11" text-anchor="start" font-weight="normal" fill="#1a1a1a" >46 K</text>
<text x="541.80" y="268.84" font-size="11" text-anchor="start" font-weight="normal" fill="#1a1a1a" >42 K</text>
<text x="541.80" y="292.34" font-size="11" text-anchor="start" font-weight="normal" fill="#1a1a1a" >31 K</text>
<text x="541.80" y="318.34" font-size="11" text-anchor="start" font-weight="normal" fill="#1a1a1a" >25 K</text>
<text x="482.50" y="195.00" font-size="17" text-anchor="start" font-weight="bold" fill="#000" >j</text>
<line x1="632.5" y1="311.6" x2="762.5" y2="311.6" stroke="#888" stroke-width="1.1" stroke-dasharray="4.6,8.6"/>
<polyline points="635.70,222.80 636.09,222.80 636.47,222.80 636.86,222.80 637.25,222.80 637.63,222.80 638.02,222.80 638.40,222.80 638.79,222.80 639.18,222.80 639.56,222.80 639.95,222.80 640.34,222.80 640.72,222.80 641.11,222.80 641.49,222.80 641.88,222.80 642.27,222.80 642.65,222.80 643.04,222.81 643.43,222.81 643.81,222.81 644.20,222.81 644.58,222.82 644.97,222.82 645.36,222.83 645.74,222.83 646.13,222.84 646.52,222.84 646.90,222.85 647.29,222.86 647.67,222.87 648.06,222.88 648.45,222.90 648.83,222.91 649.22,222.93 649.61,222.94 649.99,222.96 650.38,222.98 650.76,223.00 651.15,223.02 651.54,223.05 651.92,223.07 652.31,223.10 652.70,223.13 653.08,223.16 653.47,223.20 653.85,223.23 654.24,223.27 654.63,223.31 655.01,223.36 655.40,223.40 655.79,223.45 656.17,223.50 656.56,223.55 656.94,223.60 657.33,223.66 657.72,223.72 658.10,223.78 658.49,223.84 658.88,223.91 659.26,223.98 659.65,224.06 660.03,224.13 660.42,224.21 660.81,224.29 661.19,224.38 661.58,224.46 661.97,224.55 662.35,224.65 662.74,224.75 663.12,224.85 663.51,224.95 663.90,225.06 664.28,225.17 664.67,225.28 665.06,225.40 665.44,225.52 665.83,225.65 666.21,225.77 666.60,225.91 666.99,226.04 667.37,226.18 667.76,226.33 668.15,226.47 668.53,226.63 668.92,226.78 669.30,226.94 669.69,227.11 670.08,227.28 670.46,227.45 670.85,227.63 671.24,227.81 671.62,227.99 672.01,228.18 672.39,228.38 672.78,228.58 673.17,228.79 673.55,229.00 673.94,229.21 674.33,229.43 674.71,229.66 675.10,229.89 675.48,230.12 675.87,230.36 676.26,230.61 676.64,230.86 677.03,231.12 677.42,231.38 677.80,231.65 678.19,231.93 678.57,232.21 678.96,232.50 679.35,232.79 679.73,233.09 680.12,233.40 680.50,233.71 680.89,234.03 681.28,234.36 681.66,234.69 682.05,235.03 682.44,235.38 682.82,235.73 683.21,236.10 683.60,236.47 683.98,236.85 684.37,237.23 684.75,237.63 685.14,238.03 685.53,238.44 685.91,238.86 686.30,239.29 686.69,239.73 687.07,240.18 687.46,240.63 687.84,241.10 688.23,241.58 688.62,242.06 689.00,242.56 689.39,243.07 689.78,243.59 690.16,244.12 690.55,244.66 690.93,245.22 691.32,245.79 691.71,246.37 692.09,246.96 692.48,247.57 692.87,248.19 693.25,248.82 693.64,249.48 694.02,250.14 694.41,250.83 694.80,251.53 695.18,252.24 695.57,252.98 695.96,253.73 696.34,254.51 696.73,255.30 697.11,256.12 697.50,256.96 697.53,257.03 697.56,257.10 697.59,257.17 697.62,257.23 697.65,257.30 697.69,257.37 697.72,257.44 697.75,257.51 697.78,257.58 697.81,257.65 697.84,257.72 697.87,257.79 697.90,257.86 697.93,257.93 697.96,258.00 697.99,258.07 698.03,258.14 698.06,258.21 698.09,258.28 698.12,258.35 698.15,258.43 698.18,258.50 698.21,258.57 698.24,258.64 698.27,258.71 698.30,258.78 698.33,258.86 698.37,258.93 698.40,259.00 698.43,259.08 698.46,259.15 698.49,259.22 698.52,259.30 698.55,259.37 698.58,259.44 698.61,259.52 698.64,259.59 698.67,259.66 698.71,259.74 698.74,259.81 698.77,259.89 698.80,259.96 698.83,260.04 698.86,260.11 698.89,260.19 698.92,260.27 698.95,260.34 698.98,260.42 699.01,260.49 699.05,260.57 699.08,260.65 699.11,260.72 699.14,260.80 699.17,260.88 699.20,260.96 699.23,261.03 699.26,261.11 699.29,261.19 699.32,261.27 699.35,261.35 699.38,261.43 699.42,261.50 699.45,261.58 699.48,261.66 699.51,261.74 699.54,261.82 699.57,261.90 699.60,261.98 699.63,262.06 699.66,262.14 699.69,262.22 699.72,262.30 699.76,262.38 699.79,262.47 699.82,262.55 699.85,262.63 699.88,262.71 699.91,262.79 699.94,262.88 699.97,262.96 700.00,263.04 700.03,263.12 700.06,263.21 700.10,263.29 700.13,263.37 700.16,263.46 700.19,263.54 700.22,263.63 700.25,263.71 700.28,263.80 700.31,263.88 700.34,263.97 700.37,264.05 700.40,264.14 700.44,264.22 700.47,264.31 700.50,264.40 700.53,264.48 700.56,264.57 700.59,264.66 700.62,264.75 700.65,264.83 700.68,264.92 700.71,265.01 700.74,265.10 700.78,265.19 700.81,265.28 700.84,265.37 700.87,265.46 700.90,265.54 700.93,265.63 700.96,265.73 700.99,265.82 701.02,265.91 701.05,266.00 701.08,266.09 701.12,266.18 701.15,266.27 701.18,266.36 701.21,266.46 701.24,266.55 701.27,266.64 701.30,266.74 701.33,266.83 701.36,266.92 701.39,267.02 701.42,267.11 701.46,267.21 701.49,267.30 701.52,267.40 701.55,267.49 701.58,267.59 701.61,267.69 701.64,267.78 701.67,267.88 701.70,267.98 701.73,268.07 701.76,268.17 701.80,268.27 701.83,268.37 701.86,268.47 701.89,268.56 701.92,268.66 701.95,268.76 701.98,268.86 702.01,268.96 702.04,269.06 702.07,269.17 702.10,269.27 702.14,269.37 702.17,269.47 702.20,269.57 702.23,269.68 702.26,269.78 702.29,269.88 702.32,269.99 702.35,270.09 702.38,270.19 702.41,270.30 702.44,270.40 702.47,270.51 702.51,270.62 702.54,270.72 702.57,270.83 702.60,270.94 702.63,271.04 702.66,271.15 702.69,271.26 702.72,271.37 702.75,271.48 702.78,271.59 702.81,271.70 702.85,271.81 702.88,271.92 702.91,272.03 702.94,272.14 702.97,272.25 703.00,272.36 703.03,272.48 703.06,272.59 703.09,272.70 703.12,272.82 703.15,272.93 703.19,273.04 703.22,273.16 703.25,273.28 703.28,273.39 703.31,273.51 703.34,273.63 703.37,273.74 703.40,273.86 703.43,273.98 703.46,274.10 703.49,274.22 703.53,274.34 703.56,274.46 703.59,274.58 703.62,274.70 703.65,274.82 703.68,274.95 703.71,275.07 703.74,275.19 703.77,275.32 703.80,275.44 703.83,275.57 703.87,275.69 703.90,275.82 703.93,275.95 703.96,276.07 703.99,276.20 704.02,276.33 704.05,276.46 704.08,276.59 704.11,276.72 704.14,276.85 704.17,276.98 704.21,277.12 704.24,277.25 704.27,277.38 704.30,277.52 704.33,277.65 704.36,277.79 704.39,277.92 704.42,278.06 704.45,278.20 704.48,278.34 704.51,278.47 704.55,278.61 704.58,278.75 704.61,278.90 704.64,279.04 704.67,279.18 704.70,279.32 704.73,279.47 704.76,279.61 704.79,279.76 704.82,279.90 704.85,280.05 704.89,280.20 704.92,280.35 704.95,280.50 704.98,280.65 705.01,280.80 705.04,280.95 705.07,281.11 705.10,281.26 705.13,281.42 705.16,281.57 705.19,281.73 705.23,281.89 705.26,282.05 705.29,282.21 705.32,282.37 705.35,282.53 705.38,282.69 705.41,282.86 705.44,283.02 705.47,283.19 705.50,283.36 705.53,283.53 705.56,283.70 705.60,283.87 705.63,284.04 705.66,284.21 705.69,284.39 705.72,284.56 705.75,284.74 705.78,284.92 705.81,285.10 705.84,285.28 705.87,285.46 705.90,285.65 705.94,285.83 705.97,286.02 706.00,286.21 706.03,286.40 706.06,286.59 706.09,286.79 706.12,286.98 706.15,287.18 706.18,287.38 706.21,287.58 706.24,287.78 706.28,287.99 706.31,288.19 706.34,288.40 706.37,288.61 706.40,288.83 706.43,289.04 706.46,289.26 706.49,289.48 706.52,289.70 706.55,289.93 706.58,290.15 706.62,290.38 706.65,290.61 706.68,290.85 706.71,291.09 706.74,291.33 706.77,291.57 706.80,291.82 706.83,292.07 706.86,292.33 706.89,292.58 706.92,292.85 706.96,293.11 706.99,293.38 707.02,293.66 707.05,293.94 707.08,294.22 707.11,294.51 707.14,294.80 707.17,295.10 707.20,295.40 707.23,295.72 707.26,296.03 707.30,296.36 707.33,296.69 707.36,297.03 707.39,297.38 707.42,297.73 707.45,298.10 707.48,298.48 707.51,298.87 707.54,299.27 707.57,299.68 707.60,300.12 707.64,300.56 707.67,301.03 707.70,301.52 707.73,302.04 707.76,302.58 707.79,303.16 707.82,303.79 707.85,304.47 707.88,305.22 707.91,306.07 707.94,307.08 707.98,308.41 708.01,311.60" fill="none" stroke="#1a1a1a" stroke-width="1.2"/>
<g stroke="#d94a4a" stroke-width="1" opacity="0.85" fill="none"><line x1="674.325" y1="216.88" x2="674.325" y2="246.48"/><line x1="672.325" y1="216.88" x2="676.325" y2="216.88"/><line x1="672.325" y1="246.48" x2="676.325" y2="246.48"/><line x1="669.69" y1="231.68" x2="678.96" y2="231.68"/><line x1="669.69" y1="230.08" x2="669.69" y2="233.28"/><line x1="678.96" y1="230.08" x2="678.96" y2="233.28"/></g><circle cx="674.33" cy="231.68" r="2.1" fill="#d94a4a"/>
<g stroke="#d94a4a" stroke-width="1" opacity="0.85" fill="none"><line x1="685.1400000000001" y1="221.32" x2="685.1400000000001" y2="250.92"/><line x1="683.1400000000001" y1="221.32" x2="687.1400000000001" y2="221.32"/><line x1="683.1400000000001" y1="250.92" x2="687.1400000000001" y2="250.92"/><line x1="680.50" y1="236.12" x2="689.78" y2="236.12"/><line x1="680.50" y1="234.52" x2="680.50" y2="237.72"/><line x1="689.78" y1="234.52" x2="689.78" y2="237.72"/></g><circle cx="685.14" cy="236.12" r="2.1" fill="#d94a4a"/>
<g stroke="#d94a4a" stroke-width="1" opacity="0.85" fill="none"><line x1="700.59" y1="250.92" x2="700.59" y2="280.52"/><line x1="698.59" y1="250.92" x2="702.59" y2="250.92"/><line x1="698.59" y1="280.52" x2="702.59" y2="280.52"/><line x1="695.96" y1="265.72" x2="705.23" y2="265.72"/><line x1="695.96" y1="264.12" x2="695.96" y2="267.32"/><line x1="705.23" y1="264.12" x2="705.23" y2="267.32"/></g><circle cx="700.59" cy="265.72" r="2.1" fill="#d94a4a"/>
<g stroke="#d94a4a" stroke-width="1" opacity="0.85" fill="none"><line x1="706.77" y1="296.80" x2="706.77" y2="326.40"/><line x1="704.77" y1="296.80" x2="708.77" y2="296.80"/><line x1="704.77" y1="326.40" x2="708.77" y2="326.40"/><line x1="702.13" y1="311.60" x2="711.41" y2="311.60"/><line x1="702.13" y1="310.00" x2="702.13" y2="313.20"/><line x1="711.41" y1="310.00" x2="711.41" y2="313.20"/></g><circle cx="706.77" cy="311.60" r="2.1" fill="#d94a4a"/>
<g stroke="#d94a4a" stroke-width="1" opacity="0.85" fill="none"><line x1="753.12" y1="296.80" x2="753.12" y2="326.40"/><line x1="751.12" y1="296.80" x2="755.12" y2="296.80"/><line x1="751.12" y1="326.40" x2="755.12" y2="326.40"/><line x1="748.49" y1="311.60" x2="757.75" y2="311.60"/><line x1="748.49" y1="310.00" x2="748.49" y2="313.20"/><line x1="757.75" y1="310.00" x2="757.75" y2="313.20"/></g><circle cx="753.12" cy="311.60" r="2.1" fill="#d94a4a"/>
<g stroke="#4a5ab8" stroke-width="1" opacity="0.85" fill="none"><line x1="700.59" y1="243.52" x2="700.59" y2="273.12"/><line x1="698.59" y1="243.52" x2="702.59" y2="243.52"/><line x1="698.59" y1="273.12" x2="702.59" y2="273.12"/><line x1="695.96" y1="258.32" x2="705.23" y2="258.32"/><line x1="695.96" y1="256.72" x2="695.96" y2="259.92"/><line x1="705.23" y1="256.72" x2="705.23" y2="259.92"/></g><rect x="698.49" y="256.22" width="4.2" height="4.2" fill="#4a5ab8"/>
<g stroke="#4a5ab8" stroke-width="1" opacity="0.85" fill="none"><line x1="708.315" y1="296.80" x2="708.315" y2="326.40"/><line x1="706.315" y1="296.80" x2="710.315" y2="296.80"/><line x1="706.315" y1="326.40" x2="710.315" y2="326.40"/><line x1="703.68" y1="311.60" x2="712.95" y2="311.60"/><line x1="703.68" y1="310.00" x2="703.68" y2="313.20"/><line x1="712.95" y1="310.00" x2="712.95" y2="313.20"/></g><rect x="706.22" y="309.50" width="4.2" height="4.2" fill="#4a5ab8"/>
<g stroke="#4a5ab8" stroke-width="1" opacity="0.85" fill="none"><line x1="723.7650000000001" y1="296.80" x2="723.7650000000001" y2="326.40"/><line x1="721.7650000000001" y1="296.80" x2="725.7650000000001" y2="296.80"/><line x1="721.7650000000001" y1="326.40" x2="725.7650000000001" y2="326.40"/><line x1="719.13" y1="311.60" x2="728.40" y2="311.60"/><line x1="719.13" y1="310.00" x2="719.13" y2="313.20"/><line x1="728.40" y1="310.00" x2="728.40" y2="313.20"/></g><rect x="721.67" y="309.50" width="4.2" height="4.2" fill="#4a5ab8"/>
<g stroke="#4a5ab8" stroke-width="1" opacity="0.85" fill="none"><line x1="756.21" y1="296.80" x2="756.21" y2="326.40"/><line x1="754.21" y1="296.80" x2="758.21" y2="296.80"/><line x1="754.21" y1="326.40" x2="758.21" y2="326.40"/><line x1="751.58" y1="311.60" x2="760.85" y2="311.60"/><line x1="751.58" y1="310.00" x2="751.58" y2="313.20"/><line x1="760.85" y1="310.00" x2="760.85" y2="313.20"/></g><rect x="754.11" y="309.50" width="4.2" height="4.2" fill="#4a5ab8"/>
<rect x="632.5" y="205" width="130.0" height="123.80000000000001" fill="none" stroke="#2a2a2a" stroke-width="1.2"/>
<line x1="632.5" y1="326.40" x2="627.5" y2="326.40" stroke="#2a2a2a" stroke-width="1"/>
<line x1="632.5" y1="311.60" x2="627.5" y2="311.60" stroke="#2a2a2a" stroke-width="1"/>
<line x1="632.5" y1="296.80" x2="627.5" y2="296.80" stroke="#2a2a2a" stroke-width="1"/>
<line x1="632.5" y1="282.00" x2="627.5" y2="282.00" stroke="#2a2a2a" stroke-width="1"/>
<line x1="632.5" y1="267.20" x2="627.5" y2="267.20" stroke="#2a2a2a" stroke-width="1"/>
<line x1="632.5" y1="252.40" x2="627.5" y2="252.40" stroke="#2a2a2a" stroke-width="1"/>
<line x1="632.5" y1="237.60" x2="627.5" y2="237.60" stroke="#2a2a2a" stroke-width="1"/>
<line x1="632.5" y1="222.80" x2="627.5" y2="222.80" stroke="#2a2a2a" stroke-width="1"/>
<line x1="632.5" y1="208.00" x2="627.5" y2="208.00" stroke="#2a2a2a" stroke-width="1"/>
<line x1="635.70" y1="328.8" x2="635.70" y2="333.3" stroke="#2a2a2a" stroke-width="1"/>
<line x1="666.60" y1="328.8" x2="666.60" y2="333.3" stroke="#2a2a2a" stroke-width="1"/>
<line x1="697.50" y1="328.8" x2="697.50" y2="333.3" stroke="#2a2a2a" stroke-width="1"/>
<line x1="728.40" y1="328.8" x2="728.40" y2="333.3" stroke="#2a2a2a" stroke-width="1"/>
<line x1="759.30" y1="328.8" x2="759.30" y2="333.3" stroke="#2a2a2a" stroke-width="1"/>
<text x="625.50" y="330.74" font-size="11" text-anchor="end" font-weight="normal" fill="#1a1a1a" >−2</text>
<text x="625.50" y="315.94" font-size="11" text-anchor="end" font-weight="normal" fill="#1a1a1a" >0</text>
<text x="625.50" y="301.14" font-size="11" text-anchor="end" font-weight="normal" fill="#1a1a1a" >2</text>
<text x="625.50" y="286.34" font-size="11" text-anchor="end" font-weight="normal" fill="#1a1a1a" >4</text>
<text x="625.50" y="271.54" font-size="11" text-anchor="end" font-weight="normal" fill="#1a1a1a" >6</text>
<text x="625.50" y="256.74" font-size="11" text-anchor="end" font-weight="normal" fill="#1a1a1a" >8</text>
<text x="625.50" y="241.94" font-size="11" text-anchor="end" font-weight="normal" fill="#1a1a1a" >10</text>
<text x="625.50" y="227.14" font-size="11" text-anchor="end" font-weight="normal" fill="#1a1a1a" >12</text>
<text x="625.50" y="212.34" font-size="11" text-anchor="end" font-weight="normal" fill="#1a1a1a" >14</text>
<text x="635.70" y="346.64" font-size="11" text-anchor="middle" font-weight="normal" fill="#1a1a1a" >0</text>
<text x="666.60" y="346.64" font-size="11" text-anchor="middle" font-weight="normal" fill="#1a1a1a" >20</text>
<text x="697.50" y="346.64" font-size="11" text-anchor="middle" font-weight="normal" fill="#1a1a1a" >40</text>
<text x="728.40" y="346.64" font-size="11" text-anchor="middle" font-weight="normal" fill="#1a1a1a" >60</text>
<text x="759.30" y="346.64" font-size="11" text-anchor="middle" font-weight="normal" fill="#1a1a1a" >80</text>
<text x="696.70" y="361.08" font-size="11.4" text-anchor="middle" font-weight="normal" fill="#1a1a1a" >Temperature (K)</text>
<text transform="translate(604.6,271) rotate(-90)" font-size="12.3" text-anchor="middle" fill="#1a1a1a">Gap (meV)</text>
<circle cx="714.1" cy="221.9" r="2.1" fill="#d94a4a"/>
<rect x="712.2" y="231.5" width="4" height="4" fill="#4a5ab8"/>
<text x="719.20" y="225.94" font-size="11" text-anchor="start" font-weight="normal" fill="#1a1a1a" >30 uc</text>
<text x="719.20" y="237.24" font-size="11" text-anchor="start" font-weight="normal" fill="#1a1a1a" >10 uc</text>
<text x="594.80" y="195.10" font-size="17" text-anchor="start" font-weight="bold" fill="#000" >k</text>
</svg></body></html>
